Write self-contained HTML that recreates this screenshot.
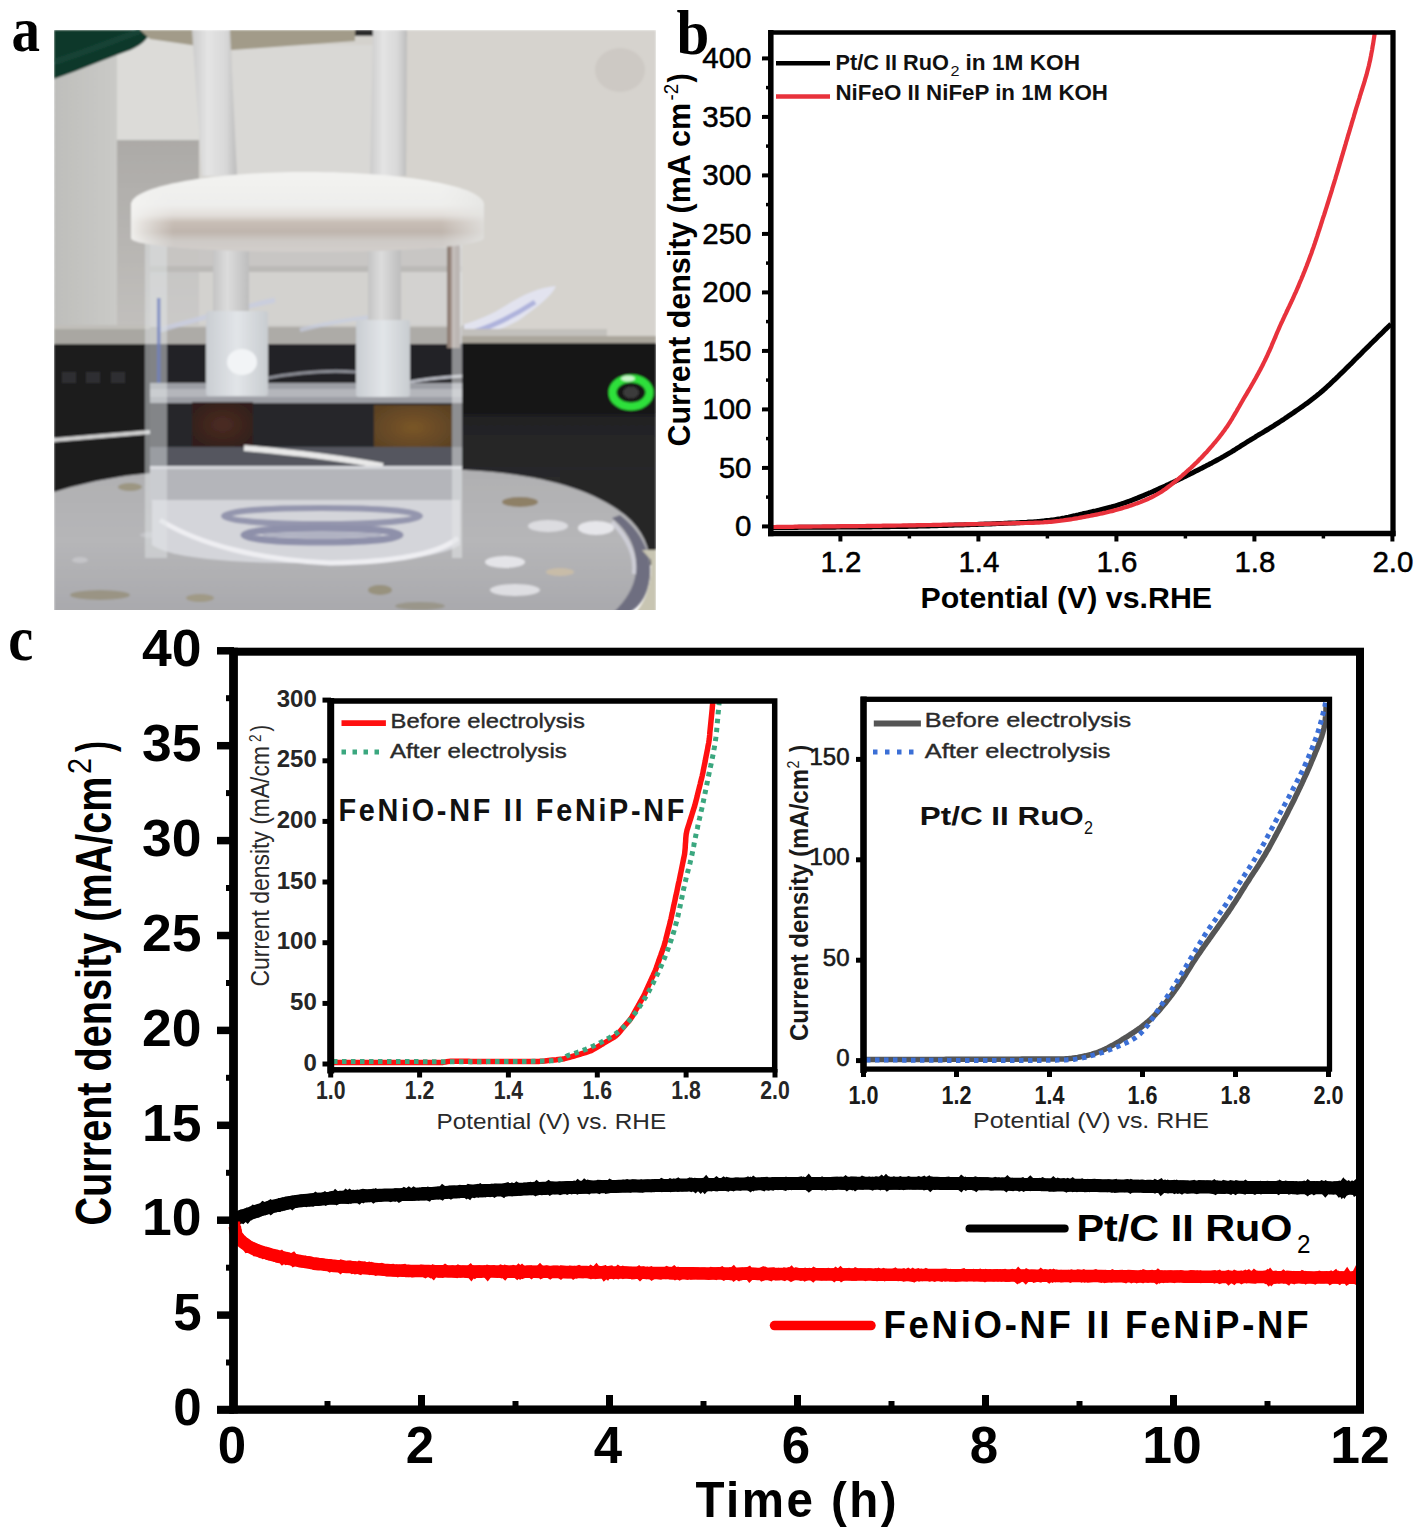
<!DOCTYPE html>
<html><head><meta charset="utf-8"><title>Figure</title>
<style>
html,body{margin:0;padding:0;background:#fff;}
body{width:1425px;height:1534px;overflow:hidden;font-family:"Liberation Sans",sans-serif;}
svg{display:block;}
</style></head><body>
<svg width="1425" height="1534" viewBox="0 0 1425 1534">
<rect x="0" y="0" width="1425" height="1534" fill="#ffffff"/>
<defs>
<clipPath id="pc"><rect x="54" y="30" width="602" height="580"/></clipPath>
<filter id="bl1" x="-5%" y="-5%" width="110%" height="110%"><feGaussianBlur stdDeviation="1.3"/></filter>
<filter id="bl3" x="-20%" y="-20%" width="140%" height="140%"><feGaussianBlur stdDeviation="3"/></filter>
<linearGradient id="gWallL" x1="0" y1="0" x2="1" y2="0">
 <stop offset="0" stop-color="#bebebb"/><stop offset="1" stop-color="#cacac7"/></linearGradient>
<linearGradient id="gShadow" x1="0" y1="0" x2="0" y2="1">
 <stop offset="0" stop-color="#acaaa7"/><stop offset="0.5" stop-color="#b7b5b2"/><stop offset="1" stop-color="#c3c1be"/></linearGradient>
<linearGradient id="gRod" x1="0" y1="0" x2="1" y2="0">
 <stop offset="0" stop-color="#cbcbcb"/><stop offset="0.35" stop-color="#e4e4e4"/><stop offset="0.75" stop-color="#d8d8d8"/><stop offset="1" stop-color="#bcbcbc"/></linearGradient>
<linearGradient id="gRod2" x1="0" y1="0" x2="1" y2="0">
 <stop offset="0" stop-color="#c4c4c4"/><stop offset="0.4" stop-color="#dcdcdc"/><stop offset="1" stop-color="#bdbdbd"/></linearGradient>
<linearGradient id="gLid" x1="0" y1="172" x2="0" y2="252" gradientUnits="userSpaceOnUse">
 <stop offset="0" stop-color="#f3f3f1"/><stop offset="0.41" stop-color="#eeeeec"/><stop offset="0.54" stop-color="#e2deda"/><stop offset="0.63" stop-color="#c8beb6"/><stop offset="0.75" stop-color="#bfb5ad"/><stop offset="0.86" stop-color="#ceCAC6"/><stop offset="1" stop-color="#d2cecb"/></linearGradient>
<linearGradient id="gLidEnd" x1="0" y1="0" x2="1" y2="0">
 <stop offset="0" stop-color="#f4f4f2" stop-opacity="0.9"/><stop offset="0.12" stop-color="#f0f0ee" stop-opacity="0"/><stop offset="0.88" stop-color="#e8e8e6" stop-opacity="0"/><stop offset="1" stop-color="#e4e4e2" stop-opacity="0.8"/></linearGradient>
<linearGradient id="gHolder" x1="0" y1="0" x2="1" y2="0">
 <stop offset="0" stop-color="#c9cdd2"/><stop offset="0.5" stop-color="#e2e5e8"/><stop offset="1" stop-color="#c8ccd0"/></linearGradient>
<linearGradient id="gPlate" x1="0" y1="470" x2="0" y2="612" gradientUnits="userSpaceOnUse">
 <stop offset="0" stop-color="#b0b0b2"/><stop offset="0.5" stop-color="#b6b6b8"/><stop offset="1" stop-color="#a9a9ad"/></linearGradient>
<linearGradient id="gDevR" x1="0" y1="343" x2="0" y2="480" gradientUnits="userSpaceOnUse">
 <stop offset="0" stop-color="#121213"/><stop offset="0.5" stop-color="#151516"/><stop offset="0.55" stop-color="#232324"/><stop offset="1" stop-color="#29292a"/></linearGradient>
<radialGradient id="gBrownR" cx="0.5" cy="0.5" r="0.6">
 <stop offset="0" stop-color="#7a5628"/><stop offset="1" stop-color="#5c4224"/></radialGradient>
<radialGradient id="gBrownL" cx="0.5" cy="0.5" r="0.6">
 <stop offset="0" stop-color="#4c2c22"/><stop offset="1" stop-color="#301e1a"/></radialGradient>
</defs><g clip-path="url(#pc)"><g filter="url(#bl1)"><rect x="54" y="30" width="602" height="320" fill="#d4d2cd"/><rect x="407" y="30" width="249" height="310" fill="#d6d3ce"/><ellipse cx="620" cy="70" rx="25" ry="22" fill="#cdc9c4"/><rect x="54" y="30" width="63" height="320" fill="url(#gWallL)"/><rect x="117" y="38" width="82" height="102" fill="#dcdbd8"/><rect x="117" y="140" width="82" height="200" fill="url(#gShadow)"/><rect x="232" y="45" width="141" height="130" fill="#d9d8d5"/><path d="M54,30 L151,30 C149,38 141,47 125,52 C105,59 85,68 54,79 Z" fill="#0e392c"/><path d="M54,62 C80,54 110,42 140,31" stroke="#1a4a3b" stroke-width="6" fill="none" opacity="0.6"/><path d="M140,30 L355,30 L355,41 L232,50 L198,46 L150,39 Z" fill="#a29b89"/><rect x="355" y="30" width="52" height="6" fill="#2c2c2c"/><polygon points="192,30 230,30 237,176 202,176" fill="url(#gRod)"/><polygon points="373,30 407,30 406,176 370,176" fill="url(#gRod)"/><path d="M415,334 C450,330 480,322 505,306 C522,295 540,287 556,286 C552,296 538,306 522,318 C505,330 480,336 440,338 Z" fill="#e2e3ef"/><path d="M470,333 C495,326 515,315 535,302" stroke="#aeb2dc" stroke-width="5" fill="none"/><rect x="54" y="327" width="410" height="18" fill="#a9a7a2"/><rect x="54" y="325" width="410" height="4" fill="#c0beb9"/><rect x="462" y="329" width="145" height="8" fill="#c2c0bc"/><rect x="462" y="336" width="194" height="9" fill="#aaa69c"/><rect x="54" y="344" width="602" height="150" fill="#1d1d1f"/><rect x="462" y="343" width="194" height="140" fill="url(#gDevR)"/><rect x="560" y="470" width="96" height="95" fill="#262628"/><g opacity="0.55" fill="#3c3c3e"><rect x="62" y="372" width="14" height="11"/><rect x="86" y="372" width="14" height="11"/><rect x="111" y="372" width="14" height="11"/></g><path d="M54,440 L150,432" stroke="#d0d0d0" stroke-width="4" fill="none"/><ellipse cx="631" cy="392.5" rx="18.5" ry="14" fill="none" stroke="#2ee03a" stroke-width="8"/><ellipse cx="631" cy="392.5" rx="8" ry="6" fill="#3a3a3a"/><ellipse cx="628" cy="378.5" rx="7" ry="3" fill="#e8f8e8" opacity="0.85"/><path d="M54,492 C100,478 140,472 200,470 L465,470 C540,474 590,488 625,515 C645,532 652,552 650,575 C648,595 640,605 630,612 L54,612 Z" fill="url(#gPlate)"/><path d="M620,515 C640,530 652,552 650,576 C648,596 640,606 630,612 L614,612 C626,600 634,588 636,572 C638,552 630,532 612,518 Z" fill="#6e6e80"/><path d="M612,522 C628,538 636,556 634,574" stroke="#d4d4de" stroke-width="4" fill="none" opacity="0.8"/><path d="M642,550 L656,550 L656,612 L636,612 C648,598 652,578 651,560 Z" fill="#c8c5b2"/><ellipse cx="130" cy="487" rx="12" ry="4" fill="#9c9682"/><ellipse cx="520" cy="502" rx="18" ry="5" fill="#8e8066"/><ellipse cx="548" cy="526" rx="20" ry="6" fill="#dcdce0"/><ellipse cx="596" cy="528" rx="18" ry="7" fill="#e6e6ea"/><ellipse cx="505" cy="562" rx="20" ry="6" fill="#e4e4e8"/><ellipse cx="560" cy="572" rx="14" ry="4" fill="#c8bca8"/><ellipse cx="515" cy="590" rx="25" ry="6" fill="#dedee2"/><ellipse cx="100" cy="595" rx="30" ry="5" fill="#9a9484"/><ellipse cx="200" cy="598" rx="14" ry="4" fill="#a09a86"/><ellipse cx="380" cy="590" rx="12" ry="5" fill="#98927e"/><ellipse cx="420" cy="606" rx="25" ry="4" fill="#9a968a"/><ellipse cx="150" cy="535" rx="10" ry="3" fill="#c4c4c8"/><ellipse cx="80" cy="560" rx="8" ry="3" fill="#c4c4c8"/><rect x="150" y="240" width="312" height="88" fill="#d2d2d2" opacity="0.55"/><rect x="150" y="248" width="312" height="24" fill="#c6c4c2" opacity="0.9"/><rect x="150" y="266" width="312" height="6" fill="#b8b6b4" opacity="0.8"/><rect x="150" y="344" width="312" height="56" fill="#222226"/><rect x="150" y="327" width="312" height="17" fill="#adaba7"/><path d="M268,378 C300,372 330,370 356,372" stroke="#8a8c94" stroke-width="3" fill="none"/><path d="M410,382 C430,378 450,377 462,376" stroke="#b8bac2" stroke-width="3" fill="none"/><path d="M160,330 C200,318 240,308 275,300" stroke="#c8cde0" stroke-width="5" fill="none" opacity="0.8"/><path d="M300,330 C330,322 360,318 380,316" stroke="#c8cde0" stroke-width="4" fill="none" opacity="0.7"/><rect x="213" y="245" width="36" height="68" fill="url(#gRod2)"/><rect x="368" y="245" width="33" height="77" fill="url(#gRod2)"/><rect x="447" y="238" width="13" height="110" fill="#8d7d73"/><rect x="450" y="238" width="5" height="110" fill="#a09088"/><rect x="150" y="383" width="312" height="20" fill="#9c9ea4"/><rect x="150" y="389" width="312" height="8" fill="#b4b6bb"/><rect x="206" y="311" width="62" height="85" rx="3" fill="url(#gHolder)"/><ellipse cx="242" cy="362" rx="15" ry="13" fill="#f2f4f6"/><rect x="356" y="320" width="54" height="77" rx="3" fill="url(#gHolder)"/><rect x="150" y="403" width="312" height="45" fill="#26262a"/><rect x="192" y="402" width="61" height="45" fill="url(#gBrownL)"/><rect x="374" y="405" width="78" height="45" fill="url(#gBrownR)"/><rect x="150" y="447" width="312" height="22" fill="#55575e"/><path d="M244,448 C290,452 340,458 383,466" stroke="#e8e8e8" stroke-width="6" fill="none"/><rect x="150" y="468" width="312" height="34" fill="#b4b5ba"/><rect x="150" y="466" width="312" height="3" fill="#d6d7dc"/><path d="M152,500 L460,500 L460,545 C440,558 380,563 305,563 C230,563 170,558 152,545 Z" fill="#d4d5da"/><ellipse cx="322" cy="516" rx="98" ry="8" fill="none" stroke="#9496ae" stroke-width="6"/><ellipse cx="322" cy="535" rx="78" ry="7" fill="none" stroke="#8e90aa" stroke-width="7"/><ellipse cx="322" cy="535" rx="60" ry="3" fill="#b0b2c2"/><path d="M160,520 C200,545 260,560 330,563 C400,562 440,553 458,538" stroke="#eeeef2" stroke-width="5" fill="none"/><rect x="145" y="238" width="22" height="320" fill="#e0e3e6" opacity="0.5"/><rect x="452" y="238" width="10" height="320" fill="#e4e6e8" opacity="0.55"/><rect x="157" y="298" width="3.5" height="85" fill="#6f80c0" opacity="0.75"/><path d="M131,205 C131,186 210,172 307,172 C404,172 484,186 484,205 L484,238 C484,246 404,252 307,252 C210,252 131,246 131,238 Z" fill="url(#gLid)"/><path d="M131,205 C131,186 210,172 307,172 C404,172 484,186 484,205 L484,238 C484,246 404,252 307,252 C210,252 131,246 131,238 Z" fill="url(#gLidEnd)"/></g></g><text x="11.5" y="51.4" font-family="Liberation Serif" font-size="64" font-weight="bold" text-anchor="start" fill="#000" textLength="28.5" lengthAdjust="spacingAndGlyphs" >a</text><text x="676.5" y="54.4" font-family="Liberation Serif" font-size="63" font-weight="bold" text-anchor="start" fill="#000" textLength="32.8" lengthAdjust="spacingAndGlyphs" >b</text><text x="8.2" y="660.3" font-family="Liberation Serif" font-size="64" font-weight="bold" text-anchor="start" fill="#000" textLength="25.0" lengthAdjust="spacingAndGlyphs" >c</text><g><path d="M771.0,527.5 L773.0,527.5 L775.0,527.5 L777.0,527.5 L779.0,527.5 L781.0,527.4 L783.0,527.4 L785.0,527.4 L787.0,527.4 L789.0,527.4 L791.0,527.4 L793.0,527.4 L795.0,527.4 L797.0,527.4 L799.0,527.3 L801.0,527.3 L803.0,527.3 L805.0,527.3 L807.0,527.3 L809.0,527.3 L811.0,527.3 L813.0,527.3 L815.0,527.3 L817.0,527.3 L819.0,527.2 L821.0,527.2 L823.0,527.2 L825.0,527.2 L827.0,527.2 L829.0,527.2 L831.0,527.2 L833.0,527.2 L835.0,527.2 L837.0,527.1 L839.0,527.1 L841.0,527.1 L843.0,527.1 L845.0,527.1 L847.0,527.1 L849.0,527.1 L851.0,527.0 L853.0,527.0 L855.0,527.0 L857.0,527.0 L859.0,527.0 L861.0,527.0 L863.0,526.9 L865.0,526.9 L867.0,526.9 L869.0,526.9 L871.0,526.9 L873.0,526.8 L875.0,526.8 L877.0,526.8 L879.0,526.8 L881.0,526.8 L883.0,526.7 L885.0,526.7 L887.0,526.7 L889.0,526.7 L891.0,526.6 L893.0,526.6 L895.0,526.6 L897.0,526.5 L899.0,526.5 L901.0,526.5 L903.0,526.4 L905.0,526.4 L907.0,526.4 L909.0,526.3 L911.0,526.3 L913.0,526.2 L915.0,526.2 L917.0,526.2 L919.0,526.1 L921.0,526.1 L923.0,526.0 L925.0,526.0 L927.0,525.9 L929.0,525.9 L931.0,525.8 L933.0,525.8 L935.0,525.7 L937.0,525.7 L939.0,525.6 L941.0,525.5 L943.0,525.5 L945.0,525.4 L947.0,525.4 L949.0,525.3 L951.0,525.2 L953.0,525.2 L955.0,525.1 L957.0,525.1 L959.0,525.0 L961.0,524.9 L963.0,524.9 L965.0,524.8 L967.0,524.7 L969.0,524.7 L971.0,524.6 L973.0,524.5 L975.0,524.4 L977.0,524.4 L979.0,524.3 L981.0,524.2 L983.0,524.2 L985.0,524.1 L987.0,524.0 L989.0,523.9 L991.0,523.9 L993.0,523.8 L995.0,523.7 L997.0,523.6 L998.9,523.5 L1000.9,523.5 L1002.9,523.4 L1004.9,523.3 L1006.9,523.2 L1008.9,523.1 L1010.9,523.0 L1012.9,523.0 L1014.9,522.9 L1016.9,522.8 L1018.9,522.7 L1020.9,522.6 L1022.9,522.5 L1024.9,522.4 L1026.9,522.3 L1028.9,522.1 L1030.9,522.0 L1032.9,521.9 L1034.9,521.7 L1036.9,521.6 L1038.9,521.4 L1040.9,521.2 L1042.9,521.1 L1044.9,520.8 L1046.8,520.6 L1048.8,520.4 L1050.8,520.1 L1052.8,519.9 L1054.8,519.6 L1056.7,519.3 L1058.7,518.9 L1060.7,518.6 L1062.6,518.2 L1064.6,517.9 L1066.6,517.5 L1068.5,517.1 L1070.5,516.6 L1072.4,516.2 L1074.4,515.8 L1076.3,515.3 L1078.3,514.9 L1080.2,514.4 L1082.2,514.0 L1084.1,513.5 L1086.1,513.1 L1088.0,512.7 L1090.0,512.2 L1091.9,511.8 L1093.9,511.3 L1095.8,510.9 L1097.8,510.4 L1099.7,510.0 L1101.7,509.5 L1103.6,509.0 L1105.6,508.5 L1107.5,508.0 L1109.4,507.5 L1111.3,507.0 L1113.3,506.4 L1115.2,505.9 L1117.1,505.3 L1119.0,504.7 L1120.9,504.1 L1122.8,503.5 L1124.7,502.8 L1126.6,502.1 L1128.5,501.5 L1130.3,500.8 L1132.2,500.1 L1134.1,499.3 L1135.9,498.6 L1137.8,497.9 L1139.6,497.1 L1141.5,496.3 L1143.3,495.6 L1145.2,494.8 L1147.0,494.0 L1148.9,493.2 L1150.7,492.5 L1152.5,491.7 L1154.4,490.9 L1156.2,490.1 L1158.0,489.2 L1159.8,488.4 L1161.7,487.6 L1163.5,486.8 L1165.3,486.0 L1167.1,485.1 L1168.9,484.3 L1170.7,483.4 L1172.6,482.6 L1174.4,481.7 L1176.2,480.8 L1178.0,480.0 L1179.8,479.1 L1181.6,478.2 L1183.4,477.3 L1185.2,476.5 L1186.9,475.6 L1188.7,474.7 L1190.5,473.8 L1192.3,472.9 L1194.1,472.0 L1195.9,471.1 L1197.7,470.2 L1199.5,469.3 L1201.2,468.4 L1203.0,467.5 L1204.8,466.6 L1206.6,465.6 L1208.4,464.7 L1210.1,463.8 L1211.9,462.9 L1213.7,461.9 L1215.4,461.0 L1217.2,460.0 L1218.9,459.1 L1220.7,458.1 L1222.4,457.1 L1224.2,456.1 L1225.9,455.1 L1227.6,454.1 L1229.3,453.1 L1231.1,452.1 L1232.8,451.0 L1234.5,450.0 L1236.2,448.9 L1237.8,447.8 L1239.5,446.8 L1241.2,445.7 L1242.9,444.6 L1244.6,443.6 L1246.3,442.5 L1248.0,441.4 L1249.7,440.4 L1251.4,439.3 L1253.1,438.3 L1254.8,437.3 L1256.5,436.2 L1258.2,435.2 L1259.9,434.1 L1261.7,433.1 L1263.4,432.1 L1265.1,431.0 L1266.8,430.0 L1268.5,429.0 L1270.2,427.9 L1271.9,426.8 L1273.6,425.8 L1275.3,424.7 L1277.0,423.6 L1278.6,422.6 L1280.3,421.5 L1282.0,420.4 L1283.7,419.3 L1285.3,418.2 L1287.0,417.1 L1288.6,415.9 L1290.3,414.8 L1292.0,413.7 L1293.6,412.6 L1295.3,411.4 L1296.9,410.3 L1298.5,409.2 L1300.2,408.0 L1301.8,406.9 L1303.4,405.7 L1305.1,404.5 L1306.7,403.4 L1308.3,402.2 L1309.9,401.0 L1311.5,399.8 L1313.1,398.6 L1314.7,397.3 L1316.2,396.1 L1317.8,394.8 L1319.3,393.6 L1320.8,392.3 L1322.4,391.0 L1323.9,389.7 L1325.4,388.3 L1326.8,387.0 L1328.3,385.6 L1329.8,384.3 L1331.2,382.9 L1332.7,381.5 L1334.1,380.2 L1335.6,378.8 L1337.0,377.4 L1338.5,376.0 L1339.9,374.6 L1341.3,373.2 L1342.8,371.8 L1344.2,370.4 L1345.6,369.0 L1347.0,367.6 L1348.5,366.2 L1349.9,364.8 L1351.3,363.4 L1352.7,362.0 L1354.1,360.5 L1355.5,359.1 L1356.9,357.7 L1358.3,356.3 L1359.8,354.9 L1361.2,353.5 L1362.6,352.0 L1364.0,350.6 L1365.4,349.2 L1366.8,347.8 L1368.3,346.4 L1369.7,345.0 L1371.1,343.6 L1372.5,342.2 L1373.9,340.8 L1375.4,339.4 L1376.8,338.0 L1378.2,336.6 L1379.6,335.2 L1381.1,333.8 L1382.5,332.4 L1383.9,331.0 L1385.3,329.6 L1386.8,328.2 L1388.2,326.8 L1389.6,325.4 L1391.0,324.0 L1391.0,324.0" stroke="#000" stroke-width="5" fill="none" stroke-linejoin="round"/><path d="M771.0,527.0 L773.0,527.0 L775.0,527.0 L777.0,526.9 L779.0,526.9 L781.0,526.9 L783.0,526.9 L785.0,526.8 L787.0,526.8 L789.0,526.8 L791.0,526.8 L793.0,526.8 L795.0,526.7 L797.0,526.7 L799.0,526.7 L801.0,526.7 L803.0,526.7 L805.0,526.6 L807.0,526.6 L809.0,526.6 L811.0,526.6 L813.0,526.5 L815.0,526.5 L817.0,526.5 L819.0,526.5 L821.0,526.5 L823.0,526.4 L825.0,526.4 L827.0,526.4 L829.0,526.4 L831.0,526.4 L833.0,526.3 L835.0,526.3 L837.0,526.3 L839.0,526.3 L841.0,526.2 L843.0,526.2 L845.0,526.2 L847.0,526.2 L849.0,526.2 L851.0,526.1 L853.0,526.1 L855.0,526.1 L857.0,526.1 L859.0,526.0 L861.0,526.0 L863.0,526.0 L865.0,526.0 L867.0,525.9 L869.0,525.9 L871.0,525.9 L873.0,525.9 L875.0,525.8 L877.0,525.8 L879.0,525.8 L881.0,525.8 L883.0,525.7 L885.0,525.7 L887.0,525.7 L889.0,525.7 L891.0,525.6 L893.0,525.6 L895.0,525.6 L897.0,525.5 L899.0,525.5 L901.0,525.5 L903.0,525.4 L905.0,525.4 L907.0,525.4 L909.0,525.4 L911.0,525.3 L913.0,525.3 L915.0,525.3 L917.0,525.2 L919.0,525.2 L921.0,525.1 L923.0,525.1 L925.0,525.1 L927.0,525.0 L929.0,525.0 L931.0,525.0 L933.0,524.9 L935.0,524.9 L937.0,524.9 L939.0,524.8 L941.0,524.8 L943.0,524.7 L945.0,524.7 L947.0,524.7 L949.0,524.6 L951.0,524.6 L953.0,524.5 L955.0,524.5 L957.0,524.5 L959.0,524.4 L961.0,524.4 L963.0,524.3 L965.0,524.3 L967.0,524.2 L969.0,524.2 L971.0,524.2 L973.0,524.1 L975.0,524.1 L977.0,524.0 L979.0,524.0 L981.0,523.9 L983.0,523.9 L985.0,523.8 L987.0,523.8 L989.0,523.8 L991.0,523.7 L993.0,523.7 L995.0,523.6 L997.0,523.6 L999.0,523.5 L1001.0,523.5 L1003.0,523.4 L1005.0,523.4 L1007.0,523.4 L1009.0,523.3 L1011.0,523.3 L1013.0,523.2 L1015.0,523.2 L1017.0,523.2 L1019.0,523.1 L1021.0,523.1 L1023.0,523.1 L1025.0,523.0 L1027.0,523.0 L1029.0,522.9 L1031.0,522.9 L1033.0,522.8 L1035.0,522.7 L1037.0,522.6 L1039.0,522.6 L1041.0,522.5 L1043.0,522.4 L1044.9,522.2 L1046.9,522.1 L1048.9,521.9 L1050.9,521.8 L1052.9,521.6 L1054.9,521.4 L1056.9,521.2 L1058.9,521.0 L1060.9,520.7 L1062.8,520.5 L1064.8,520.2 L1066.8,519.9 L1068.8,519.6 L1070.8,519.3 L1072.7,519.0 L1074.7,518.6 L1076.7,518.3 L1078.6,518.0 L1080.6,517.6 L1082.6,517.2 L1084.5,516.9 L1086.5,516.5 L1088.5,516.1 L1090.4,515.8 L1092.4,515.4 L1094.4,515.0 L1096.3,514.6 L1098.3,514.2 L1100.2,513.8 L1102.2,513.4 L1104.1,512.9 L1106.1,512.5 L1108.0,512.0 L1110.0,511.5 L1111.9,511.1 L1113.9,510.6 L1115.8,510.0 L1117.7,509.5 L1119.6,509.0 L1121.6,508.4 L1123.5,507.8 L1125.4,507.3 L1127.3,506.7 L1129.2,506.0 L1131.1,505.4 L1133.0,504.8 L1134.9,504.1 L1136.8,503.4 L1138.6,502.8 L1140.5,502.1 L1142.4,501.3 L1144.2,500.6 L1146.1,499.8 L1147.9,499.0 L1149.7,498.2 L1151.5,497.3 L1153.3,496.4 L1155.0,495.5 L1156.8,494.5 L1158.5,493.5 L1160.2,492.5 L1161.9,491.4 L1163.5,490.3 L1165.2,489.2 L1166.8,488.0 L1168.4,486.8 L1170.0,485.6 L1171.6,484.4 L1173.1,483.2 L1174.7,481.9 L1176.2,480.6 L1177.8,479.3 L1179.3,478.1 L1180.8,476.8 L1182.3,475.5 L1183.8,474.1 L1185.4,472.8 L1186.8,471.5 L1188.3,470.2 L1189.8,468.8 L1191.3,467.5 L1192.8,466.1 L1194.2,464.7 L1195.6,463.3 L1197.1,462.0 L1198.5,460.5 L1199.9,459.1 L1201.3,457.7 L1202.7,456.2 L1204.0,454.8 L1205.4,453.3 L1206.8,451.9 L1208.1,450.4 L1209.4,448.9 L1210.7,447.4 L1212.1,445.9 L1213.4,444.3 L1214.6,442.8 L1215.9,441.3 L1217.2,439.7 L1218.4,438.2 L1219.7,436.6 L1220.9,435.0 L1222.1,433.4 L1223.3,431.8 L1224.5,430.2 L1225.6,428.6 L1226.8,427.0 L1227.9,425.3 L1229.0,423.6 L1230.1,422.0 L1231.1,420.3 L1232.2,418.6 L1233.2,416.8 L1234.2,415.1 L1235.2,413.4 L1236.2,411.7 L1237.2,409.9 L1238.2,408.2 L1239.2,406.5 L1240.2,404.7 L1241.2,403.0 L1242.2,401.3 L1243.2,399.5 L1244.2,397.8 L1245.2,396.1 L1246.3,394.4 L1247.3,392.6 L1248.3,390.9 L1249.3,389.2 L1250.3,387.5 L1251.3,385.7 L1252.3,384.0 L1253.3,382.3 L1254.3,380.5 L1255.3,378.8 L1256.3,377.0 L1257.2,375.3 L1258.2,373.5 L1259.1,371.8 L1260.1,370.0 L1261.0,368.2 L1261.9,366.5 L1262.8,364.7 L1263.7,362.9 L1264.6,361.1 L1265.5,359.3 L1266.3,357.5 L1267.2,355.7 L1268.0,353.9 L1268.8,352.0 L1269.7,350.2 L1270.5,348.4 L1271.3,346.6 L1272.0,344.7 L1272.8,342.9 L1273.6,341.0 L1274.4,339.2 L1275.2,337.4 L1275.9,335.5 L1276.7,333.7 L1277.5,331.8 L1278.3,330.0 L1279.1,328.2 L1279.9,326.3 L1280.7,324.5 L1281.5,322.7 L1282.4,320.9 L1283.2,319.1 L1284.1,317.2 L1284.9,315.4 L1285.8,313.6 L1286.6,311.8 L1287.5,310.0 L1288.3,308.2 L1289.2,306.4 L1290.0,304.6 L1290.9,302.8 L1291.7,301.0 L1292.6,299.1 L1293.4,297.3 L1294.2,295.5 L1295.0,293.7 L1295.9,291.9 L1296.7,290.0 L1297.5,288.2 L1298.3,286.4 L1299.0,284.5 L1299.8,282.7 L1300.6,280.8 L1301.4,279.0 L1302.1,277.1 L1302.9,275.3 L1303.6,273.4 L1304.4,271.6 L1305.1,269.7 L1305.8,267.9 L1306.6,266.0 L1307.3,264.1 L1308.0,262.3 L1308.7,260.4 L1309.4,258.5 L1310.1,256.6 L1310.8,254.8 L1311.5,252.9 L1312.1,251.0 L1312.8,249.1 L1313.5,247.2 L1314.1,245.3 L1314.8,243.4 L1315.4,241.5 L1316.1,239.6 L1316.7,237.7 L1317.3,235.9 L1317.9,233.9 L1318.5,232.0 L1319.2,230.1 L1319.8,228.2 L1320.4,226.3 L1321.0,224.4 L1321.6,222.5 L1322.2,220.6 L1322.8,218.7 L1323.4,216.8 L1324.1,214.9 L1324.7,213.0 L1325.3,211.1 L1325.9,209.2 L1326.5,207.3 L1327.1,205.4 L1327.7,203.5 L1328.3,201.6 L1328.9,199.7 L1329.5,197.7 L1330.1,195.8 L1330.7,193.9 L1331.3,192.0 L1331.9,190.1 L1332.4,188.2 L1333.0,186.3 L1333.6,184.4 L1334.2,182.5 L1334.8,180.5 L1335.4,178.6 L1335.9,176.7 L1336.5,174.8 L1337.1,172.9 L1337.7,171.0 L1338.2,169.1 L1338.8,167.1 L1339.4,165.2 L1339.9,163.3 L1340.5,161.4 L1341.1,159.5 L1341.6,157.5 L1342.2,155.6 L1342.8,153.7 L1343.3,151.8 L1343.9,149.9 L1344.5,148.0 L1345.0,146.0 L1345.6,144.1 L1346.1,142.2 L1346.7,140.3 L1347.3,138.4 L1347.8,136.4 L1348.4,134.5 L1349.0,132.6 L1349.6,130.7 L1350.1,128.8 L1350.7,126.9 L1351.3,124.9 L1351.8,123.0 L1352.4,121.1 L1353.0,119.2 L1353.6,117.3 L1354.1,115.4 L1354.7,113.4 L1355.3,111.5 L1355.8,109.6 L1356.4,107.7 L1357.0,105.8 L1357.6,103.9 L1358.2,102.0 L1358.8,100.0 L1359.4,98.1 L1359.9,96.2 L1360.5,94.3 L1361.1,92.4 L1361.7,90.5 L1362.3,88.6 L1362.9,86.7 L1363.5,84.8 L1364.1,82.9 L1364.7,80.9 L1365.2,79.0 L1365.8,77.1 L1366.4,75.2 L1366.9,73.3 L1367.4,71.3 L1367.9,69.4 L1368.4,67.5 L1368.9,65.5 L1369.3,63.6 L1369.8,61.6 L1370.2,59.7 L1370.6,57.7 L1371.0,55.7 L1371.3,53.8 L1371.7,51.8 L1372.1,49.8 L1372.4,47.9 L1372.7,45.9 L1373.1,44.0 L1373.4,42.0 L1373.7,40.0 L1374.0,38.1 L1374.3,36.1 L1374.6,34.2 L1374.9,32.4 L1375.0,32.0" stroke="#e8323c" stroke-width="4.2" fill="none" stroke-linejoin="round"/><path d="M770.8,32.5 L1393,32.5 L1393,533.5 L770.8,533.5 Z" stroke="#000" stroke-width="4.5" fill="none"/><line x1="770.8" y1="30" x2="770.8" y2="536.3" stroke="#000" stroke-width="5.5"/><line x1="768" y1="533.6" x2="1395.5" y2="533.6" stroke="#000" stroke-width="5.5"/><line x1="1393" y1="30.3" x2="1393" y2="536.3" stroke="#000" stroke-width="5"/><line x1="762" y1="526.4" x2="771" y2="526.4" stroke="#000" stroke-width="4"/><text x="751.5" y="536.0" font-family="Liberation Sans" font-size="29.5" font-weight="normal" text-anchor="end" fill="#000" stroke="#000" stroke-width="0.5">0</text><line x1="762" y1="467.9" x2="771" y2="467.9" stroke="#000" stroke-width="4"/><text x="751.5" y="477.5" font-family="Liberation Sans" font-size="29.5" font-weight="normal" text-anchor="end" fill="#000" stroke="#000" stroke-width="0.5">50</text><line x1="762" y1="409.4" x2="771" y2="409.4" stroke="#000" stroke-width="4"/><text x="751.5" y="419.0" font-family="Liberation Sans" font-size="29.5" font-weight="normal" text-anchor="end" fill="#000" stroke="#000" stroke-width="0.5">100</text><line x1="762" y1="350.9" x2="771" y2="350.9" stroke="#000" stroke-width="4"/><text x="751.5" y="360.5" font-family="Liberation Sans" font-size="29.5" font-weight="normal" text-anchor="end" fill="#000" stroke="#000" stroke-width="0.5">150</text><line x1="762" y1="292.4" x2="771" y2="292.4" stroke="#000" stroke-width="4"/><text x="751.5" y="302.0" font-family="Liberation Sans" font-size="29.5" font-weight="normal" text-anchor="end" fill="#000" stroke="#000" stroke-width="0.5">200</text><line x1="762" y1="233.9" x2="771" y2="233.9" stroke="#000" stroke-width="4"/><text x="751.5" y="243.5" font-family="Liberation Sans" font-size="29.5" font-weight="normal" text-anchor="end" fill="#000" stroke="#000" stroke-width="0.5">250</text><line x1="762" y1="175.4" x2="771" y2="175.4" stroke="#000" stroke-width="4"/><text x="751.5" y="185.0" font-family="Liberation Sans" font-size="29.5" font-weight="normal" text-anchor="end" fill="#000" stroke="#000" stroke-width="0.5">300</text><line x1="762" y1="116.9" x2="771" y2="116.9" stroke="#000" stroke-width="4"/><text x="751.5" y="126.5" font-family="Liberation Sans" font-size="29.5" font-weight="normal" text-anchor="end" fill="#000" stroke="#000" stroke-width="0.5">350</text><line x1="762" y1="58.4" x2="771" y2="58.4" stroke="#000" stroke-width="4"/><text x="751.5" y="68.0" font-family="Liberation Sans" font-size="29.5" font-weight="normal" text-anchor="end" fill="#000" stroke="#000" stroke-width="0.5">400</text><line x1="766" y1="497.1" x2="771" y2="497.1" stroke="#000" stroke-width="3.5"/><line x1="766" y1="438.6" x2="771" y2="438.6" stroke="#000" stroke-width="3.5"/><line x1="766" y1="380.1" x2="771" y2="380.1" stroke="#000" stroke-width="3.5"/><line x1="766" y1="321.6" x2="771" y2="321.6" stroke="#000" stroke-width="3.5"/><line x1="766" y1="263.1" x2="771" y2="263.1" stroke="#000" stroke-width="3.5"/><line x1="766" y1="204.6" x2="771" y2="204.6" stroke="#000" stroke-width="3.5"/><line x1="766" y1="146.1" x2="771" y2="146.1" stroke="#000" stroke-width="3.5"/><line x1="766" y1="87.6" x2="771" y2="87.6" stroke="#000" stroke-width="3.5"/><line x1="840.4" y1="533" x2="840.4" y2="541.5" stroke="#000" stroke-width="4"/><text x="840.9" y="571.7" font-family="Liberation Sans" font-size="29.5" font-weight="normal" text-anchor="middle" fill="#000" stroke="#000" stroke-width="0.5">1.2</text><line x1="978.4" y1="533" x2="978.4" y2="541.5" stroke="#000" stroke-width="4"/><text x="978.9" y="571.7" font-family="Liberation Sans" font-size="29.5" font-weight="normal" text-anchor="middle" fill="#000" stroke="#000" stroke-width="0.5">1.4</text><line x1="1116.4" y1="533" x2="1116.4" y2="541.5" stroke="#000" stroke-width="4"/><text x="1116.9" y="571.7" font-family="Liberation Sans" font-size="29.5" font-weight="normal" text-anchor="middle" fill="#000" stroke="#000" stroke-width="0.5">1.6</text><line x1="1254.4" y1="533" x2="1254.4" y2="541.5" stroke="#000" stroke-width="4"/><text x="1254.9" y="571.7" font-family="Liberation Sans" font-size="29.5" font-weight="normal" text-anchor="middle" fill="#000" stroke="#000" stroke-width="0.5">1.8</text><line x1="1392.4" y1="533" x2="1392.4" y2="541.5" stroke="#000" stroke-width="4"/><text x="1392.9" y="571.7" font-family="Liberation Sans" font-size="29.5" font-weight="normal" text-anchor="middle" fill="#000" stroke="#000" stroke-width="0.5">2.0</text><line x1="909.4" y1="533" x2="909.4" y2="538.5" stroke="#000" stroke-width="3.5"/><line x1="1047.4" y1="533" x2="1047.4" y2="538.5" stroke="#000" stroke-width="3.5"/><line x1="1185.4" y1="533" x2="1185.4" y2="538.5" stroke="#000" stroke-width="3.5"/><line x1="1323.4" y1="533" x2="1323.4" y2="538.5" stroke="#000" stroke-width="3.5"/><text x="920.6" y="608.0" font-family="Liberation Sans" font-size="29.5" font-weight="bold" text-anchor="start" fill="#000" textLength="291.4" lengthAdjust="spacingAndGlyphs" >Potential (V) vs.RHE</text><text transform="translate(690.1,446.5) rotate(-90)" x="0" y="0" font-family="Liberation Sans" font-size="31.5" font-weight="bold" fill="#000" textLength="343.5" lengthAdjust="spacingAndGlyphs">Current density (mA cm</text><text transform="translate(678.2,100.5) rotate(-90)" x="0" y="0" font-family="Liberation Sans" font-size="21" font-weight="normal" fill="#000" textLength="16.5" lengthAdjust="spacingAndGlyphs">-2</text><text transform="translate(690.1,82.5) rotate(-90)" x="0" y="0" font-family="Liberation Sans" font-size="31.5" font-weight="bold" fill="#000" textLength="9.0" lengthAdjust="spacingAndGlyphs">)</text><line x1="776" y1="63.3" x2="830" y2="63.3" stroke="#000" stroke-width="4.5"/><line x1="776" y1="96.5" x2="830" y2="96.5" stroke="#e8323c" stroke-width="4.5"/><text x="835.5" y="69.8" font-family="Liberation Sans" font-size="21.5" font-weight="bold" text-anchor="start" fill="#111" textLength="113.5" lengthAdjust="spacingAndGlyphs" >Pt/C II RuO</text><text x="950.5" y="75.5" font-family="Liberation Sans" font-size="15" font-weight="normal" text-anchor="start" fill="#111" textLength="9.0" lengthAdjust="spacingAndGlyphs" >2</text><text x="965.5" y="69.8" font-family="Liberation Sans" font-size="21.5" font-weight="bold" text-anchor="start" fill="#111" textLength="114.5" lengthAdjust="spacingAndGlyphs" >in 1M KOH</text><text x="835.5" y="100.2" font-family="Liberation Sans" font-size="21.5" font-weight="bold" text-anchor="start" fill="#111" textLength="272.5" lengthAdjust="spacingAndGlyphs" >NiFeO II NiFeP in 1M KOH</text></g><g><path d="M233.4,1219.8 L235.5,1219.0 L238.4,1217.8 L242.0,1216.4 L246.0,1214.9 L248.5,1214.0 L251.2,1213.0 L254.1,1212.0 L257.1,1211.0 L260.3,1209.9 L263.6,1208.9 L267.1,1207.9 L269.9,1207.2 L272.9,1206.4 L276.0,1205.6 L279.1,1204.9 L282.3,1204.1 L285.6,1203.4 L288.8,1202.8 L292.0,1202.1 L295.2,1201.6 L298.3,1201.1 L301.4,1200.7 L304.5,1200.4 L307.6,1200.1 L310.8,1199.8 L313.9,1199.6 L317.0,1199.3 L320.1,1199.1 L323.2,1198.8 L326.3,1198.5 L329.4,1198.3 L332.6,1198.0 L335.7,1197.8 L338.8,1197.5 L341.9,1197.3 L345.1,1197.1 L348.2,1196.9 L351.3,1196.7 L354.3,1196.5 L357.3,1196.3 L360.1,1196.2 L363.0,1196.0 L366.0,1195.9 L369.0,1195.7 L372.2,1195.6 L375.7,1195.4 L379.4,1195.3 L382.0,1195.2 L384.7,1195.1 L387.5,1195.0 L390.3,1195.0 L393.3,1194.9 L396.4,1194.8 L399.4,1194.7 L402.6,1194.6 L405.7,1194.6 L408.9,1194.5 L412.1,1194.4 L415.3,1194.3 L418.4,1194.1 L421.5,1194.0 L424.4,1193.9 L427.2,1193.7 L429.7,1193.6 L432.2,1193.4 L434.6,1193.2 L437.0,1193.0 L439.6,1192.9 L442.3,1192.7 L445.2,1192.5 L448.5,1192.3 L452.1,1192.1 L456.1,1191.9 L460.6,1191.6 L465.6,1191.4 L467.8,1191.3 L470.0,1191.2 L472.3,1191.1 L474.7,1191.0 L477.1,1190.9 L479.6,1190.8 L482.2,1190.7 L484.8,1190.6 L487.5,1190.5 L490.2,1190.4 L493.0,1190.2 L495.9,1190.1 L498.8,1190.0 L501.7,1189.9 L504.7,1189.8 L507.7,1189.6 L510.8,1189.5 L513.9,1189.4 L517.0,1189.3 L520.2,1189.2 L523.4,1189.1 L526.7,1188.9 L529.9,1188.8 L533.2,1188.7 L536.6,1188.6 L539.9,1188.5 L543.3,1188.3 L546.7,1188.2 L550.1,1188.1 L553.6,1188.0 L557.0,1187.9 L560.5,1187.8 L564.0,1187.7 L567.5,1187.6 L571.0,1187.5 L573.7,1187.4 L576.4,1187.4 L579.2,1187.3 L582.1,1187.2 L585.0,1187.1 L587.9,1187.1 L590.9,1187.0 L593.9,1186.9 L597.0,1186.8 L600.1,1186.8 L603.2,1186.7 L606.3,1186.6 L609.5,1186.6 L612.7,1186.5 L615.9,1186.4 L619.1,1186.3 L622.4,1186.3 L625.7,1186.2 L628.9,1186.1 L632.2,1186.1 L635.5,1186.0 L638.7,1185.9 L642.0,1185.9 L645.3,1185.8 L648.6,1185.7 L651.8,1185.7 L655.1,1185.6 L658.3,1185.6 L661.5,1185.5 L664.7,1185.4 L667.9,1185.4 L671.0,1185.3 L674.2,1185.3 L677.2,1185.2 L680.3,1185.1 L683.3,1185.1 L686.3,1185.0 L689.2,1185.0 L692.1,1184.9 L695.0,1184.9 L697.8,1184.8 L700.6,1184.8 L703.3,1184.7 L705.9,1184.7 L708.5,1184.6 L711.0,1184.6 L714.8,1184.5 L718.5,1184.5 L722.0,1184.4 L725.3,1184.3 L728.5,1184.3 L731.6,1184.2 L734.5,1184.2 L737.3,1184.1 L740.1,1184.1 L742.8,1184.0 L745.4,1184.0 L748.0,1184.0 L750.6,1183.9 L753.1,1183.9 L755.7,1183.9 L758.2,1183.8 L760.8,1183.8 L763.5,1183.8 L766.2,1183.7 L769.0,1183.7 L771.9,1183.7 L774.9,1183.6 L778.0,1183.6 L781.2,1183.6 L784.6,1183.6 L788.2,1183.6 L791.9,1183.5 L795.9,1183.5 L800.0,1183.5 L802.4,1183.5 L804.8,1183.5 L807.3,1183.5 L809.7,1183.5 L812.3,1183.4 L814.8,1183.4 L817.4,1183.4 L820.0,1183.4 L822.6,1183.4 L825.2,1183.4 L827.9,1183.4 L830.6,1183.4 L833.4,1183.3 L836.1,1183.3 L838.9,1183.3 L841.8,1183.3 L844.6,1183.3 L847.5,1183.3 L850.4,1183.3 L853.3,1183.3 L856.2,1183.3 L859.2,1183.3 L862.2,1183.2 L865.2,1183.2 L868.2,1183.2 L871.3,1183.2 L874.4,1183.2 L877.5,1183.2 L880.6,1183.2 L883.8,1183.2 L887.0,1183.2 L890.2,1183.2 L893.4,1183.2 L896.6,1183.2 L899.9,1183.2 L903.1,1183.2 L906.4,1183.2 L909.8,1183.2 L913.1,1183.2 L916.4,1183.3 L919.8,1183.3 L923.2,1183.3 L926.6,1183.3 L930.0,1183.3 L933.5,1183.3 L936.9,1183.3 L940.4,1183.4 L943.9,1183.4 L947.4,1183.4 L950.9,1183.4 L954.4,1183.5 L958.0,1183.5 L960.7,1183.5 L963.3,1183.5 L966.0,1183.6 L968.8,1183.6 L971.5,1183.6 L974.3,1183.7 L977.1,1183.7 L980.0,1183.7 L982.8,1183.8 L985.7,1183.8 L988.6,1183.8 L991.5,1183.9 L994.4,1183.9 L997.3,1184.0 L1000.3,1184.0 L1003.3,1184.1 L1006.3,1184.1 L1009.3,1184.1 L1012.3,1184.2 L1015.4,1184.2 L1018.4,1184.3 L1021.5,1184.3 L1024.6,1184.4 L1027.7,1184.4 L1030.8,1184.5 L1033.9,1184.5 L1037.0,1184.6 L1040.1,1184.6 L1043.2,1184.7 L1046.4,1184.7 L1049.5,1184.8 L1052.7,1184.9 L1055.9,1184.9 L1059.0,1185.0 L1062.2,1185.0 L1065.4,1185.1 L1068.5,1185.1 L1071.7,1185.2 L1074.9,1185.2 L1078.1,1185.3 L1081.2,1185.3 L1084.4,1185.4 L1087.6,1185.5 L1090.8,1185.5 L1093.9,1185.6 L1097.1,1185.6 L1100.2,1185.7 L1103.4,1185.7 L1106.5,1185.8 L1109.7,1185.8 L1112.8,1185.9 L1115.9,1185.9 L1119.0,1186.0 L1122.2,1186.0 L1125.3,1186.1 L1128.3,1186.1 L1131.4,1186.2 L1134.5,1186.2 L1137.5,1186.3 L1140.6,1186.3 L1143.6,1186.4 L1146.6,1186.4 L1149.6,1186.4 L1152.5,1186.5 L1155.5,1186.5 L1158.4,1186.6 L1161.4,1186.6 L1164.3,1186.6 L1167.1,1186.7 L1170.0,1186.7 L1173.2,1186.7 L1176.5,1186.8 L1179.8,1186.8 L1183.1,1186.8 L1186.5,1186.9 L1189.9,1186.9 L1193.3,1186.9 L1196.7,1187.0 L1200.2,1187.0 L1203.6,1187.0 L1207.1,1187.1 L1210.6,1187.1 L1214.1,1187.1 L1217.6,1187.1 L1221.1,1187.2 L1224.7,1187.2 L1228.2,1187.2 L1231.7,1187.3 L1235.2,1187.3 L1238.8,1187.3 L1242.3,1187.3 L1245.8,1187.4 L1249.3,1187.4 L1252.8,1187.4 L1256.3,1187.4 L1259.7,1187.4 L1263.2,1187.5 L1266.6,1187.5 L1270.0,1187.5 L1273.4,1187.5 L1276.8,1187.6 L1280.1,1187.6 L1283.4,1187.6 L1286.6,1187.6 L1289.9,1187.6 L1293.1,1187.6 L1296.2,1187.7 L1299.4,1187.7 L1302.4,1187.7 L1305.5,1187.7 L1308.5,1187.7 L1311.4,1187.7 L1314.3,1187.8 L1317.1,1187.8 L1319.9,1187.8 L1322.6,1187.8 L1325.3,1187.8 L1327.9,1187.8 L1330.5,1187.8 L1333.0,1187.9 L1335.4,1187.9 L1337.7,1187.9 L1340.0,1187.9 L1342.2,1187.9 L1344.3,1187.9 L1346.4,1187.9 L1348.4,1187.9 L1350.3,1188.0 L1352.1,1188.0 L1353.8,1188.0 L1355.4,1188.0 L1357.0,1188.0" stroke="#000" stroke-width="13" fill="none" stroke-linejoin="round" stroke-linecap="butt"/><path d="M233.4,1219.3 L234.2,1219.6 L235.2,1218.8 L236.4,1218.8 L237.7,1218.3 L239.1,1216.6 L240.7,1215.9 L242.4,1216.9 L244.2,1215.1 L246.0,1214.4 L247.2,1215.5 L248.5,1213.9 L249.8,1214.2 L251.2,1213.0 L252.6,1212.8 L254.1,1211.3 L255.6,1211.8 L257.1,1211.7 L258.7,1210.5 L260.3,1210.4 L262.0,1209.7 L263.6,1208.0 L265.4,1208.9 L267.1,1208.1 L268.4,1207.1 L269.8,1206.3 L271.1,1207.6 L272.6,1206.4 L274.0,1206.5 L275.5,1206.5 L276.9,1205.8 L278.4,1205.9 L280.0,1204.5 L281.5,1204.9 L283.0,1203.9 L284.6,1204.5 L286.1,1204.1 L287.6,1202.2 L289.2,1202.0 L290.7,1201.8 L292.2,1203.0 L293.7,1201.7 L295.2,1201.9 L296.8,1201.0 L298.3,1201.1 L299.9,1200.7 L301.4,1200.4 L303.0,1200.7 L304.5,1200.5 L306.1,1201.0 L307.6,1200.4 L309.2,1200.8 L310.8,1200.5 L312.3,1200.7 L313.9,1199.9 L315.4,1198.8 L317.0,1200.0 L318.5,1200.1 L320.1,1199.9 L321.6,1199.1 L323.2,1199.2 L324.8,1198.1 L326.3,1199.2 L327.9,1198.5 L329.4,1197.8 L331.0,1197.3 L332.6,1198.7 L334.1,1198.9 L335.7,1197.0 L337.2,1198.3 L338.8,1197.4 L340.4,1196.7 L341.9,1196.9 L343.5,1197.8 L345.1,1197.9 L346.6,1196.1 L348.2,1197.1 L349.7,1195.9 L351.3,1197.1 L352.8,1196.3 L354.3,1197.3 L355.8,1197.4 L357.3,1196.4 L358.7,1197.3 L360.1,1195.8 L361.6,1195.3 L363.0,1196.2 L364.5,1195.0 L366.0,1195.3 L367.5,1195.6 L369.0,1196.0 L370.6,1195.0 L372.2,1194.7 L373.9,1196.3 L375.7,1195.1 L377.5,1196.3 L379.4,1196.1 L380.7,1195.0 L382.0,1195.1 L383.3,1195.2 L384.7,1195.4 L386.0,1195.3 L387.5,1195.2 L388.9,1195.2 L390.3,1195.8 L391.8,1194.9 L393.3,1194.7 L394.8,1195.3 L396.4,1194.3 L397.9,1194.4 L399.4,1195.7 L401.0,1194.7 L402.6,1194.7 L404.2,1193.6 L405.7,1194.4 L407.3,1194.7 L408.9,1193.5 L410.5,1194.6 L412.1,1194.6 L413.7,1193.4 L415.3,1194.5 L416.8,1194.1 L418.4,1194.5 L420.0,1193.8 L421.5,1194.4 L423.0,1194.4 L424.3,1192.9 L425.7,1192.9 L427.0,1194.1 L428.2,1194.6 L429.5,1193.1 L430.7,1193.4 L431.8,1193.6 L433.0,1193.0 L434.2,1193.0 L435.3,1192.8 L436.5,1192.8 L437.7,1193.2 L439.0,1192.5 L440.2,1192.6 L441.5,1193.3 L442.9,1191.7 L444.3,1192.7 L445.8,1192.9 L447.3,1192.0 L448.9,1191.7 L450.7,1192.8 L452.5,1191.5 L454.4,1191.3 L456.4,1191.7 L458.5,1192.1 L460.7,1190.8 L463.1,1191.2 L465.6,1191.1 L466.7,1192.0 L467.8,1191.2 L468.9,1192.0 L470.0,1190.5 L471.2,1190.8 L472.3,1191.4 L473.5,1191.8 L474.7,1190.9 L475.9,1190.4 L477.1,1190.1 L478.4,1190.9 L479.6,1190.2 L480.9,1191.4 L482.2,1191.4 L483.5,1190.0 L484.8,1190.1 L486.2,1191.1 L487.5,1190.7 L488.9,1191.0 L490.2,1190.0 L491.6,1189.6 L493.0,1189.8 L494.4,1190.8 L495.9,1189.7 L497.3,1189.8 L498.8,1189.8 L500.2,1189.8 L501.7,1189.7 L503.2,1190.7 L504.7,1189.1 L506.2,1188.7 L507.7,1190.5 L509.2,1190.3 L510.8,1190.5 L512.3,1189.3 L513.9,1190.3 L515.4,1190.2 L517.0,1188.7 L518.6,1189.7 L520.2,1189.8 L521.8,1189.4 L523.4,1189.1 L525.0,1188.6 L526.7,1188.6 L528.3,1188.3 L529.9,1187.9 L531.6,1188.9 L533.2,1188.3 L534.9,1189.3 L536.6,1187.7 L538.3,1189.3 L539.9,1188.9 L541.6,1189.3 L543.3,1189.1 L545.0,1189.1 L546.7,1188.4 L548.4,1187.2 L550.1,1188.6 L551.9,1187.4 L553.6,1187.6 L555.3,1188.3 L557.0,1188.0 L558.8,1187.7 L560.5,1188.7 L562.3,1188.0 L564.0,1187.4 L565.7,1187.2 L567.5,1188.3 L569.2,1187.5 L571.0,1188.1 L572.3,1187.2 L573.7,1186.8 L575.0,1187.5 L576.4,1188.0 L577.8,1186.7 L579.2,1187.9 L580.6,1188.1 L582.0,1187.8 L583.4,1187.8 L584.8,1186.2 L586.3,1187.4 L587.7,1187.8 L589.2,1186.1 L590.7,1186.5 L592.2,1186.5 L593.7,1187.0 L595.2,1186.7 L596.7,1186.8 L598.2,1187.4 L599.7,1185.8 L601.3,1185.9 L602.8,1186.0 L604.4,1185.9 L605.9,1185.8 L607.5,1187.6 L609.1,1187.3 L610.6,1185.7 L612.2,1186.5 L613.8,1186.1 L615.4,1186.1 L617.0,1186.1 L618.6,1186.7 L620.2,1186.5 L621.8,1186.0 L623.4,1185.6 L625.0,1185.9 L626.6,1185.4 L628.2,1186.3 L629.9,1186.6 L631.5,1185.8 L633.1,1185.2 L634.7,1185.4 L636.3,1185.7 L638.0,1186.2 L639.6,1186.5 L641.2,1185.7 L642.8,1186.5 L644.5,1186.1 L646.1,1185.7 L647.7,1185.5 L649.3,1185.7 L650.9,1186.1 L652.5,1185.5 L654.1,1186.0 L655.7,1185.5 L657.3,1185.1 L658.9,1185.6 L660.5,1185.9 L662.1,1184.6 L663.7,1185.3 L665.3,1185.3 L666.8,1186.2 L668.4,1186.2 L670.0,1185.1 L671.5,1186.1 L673.0,1185.9 L674.6,1184.8 L676.1,1185.2 L677.6,1184.4 L679.2,1185.8 L680.7,1185.5 L682.2,1185.9 L683.6,1185.7 L685.1,1185.4 L686.6,1185.5 L688.0,1185.1 L689.5,1184.2 L690.9,1185.1 L692.4,1183.9 L693.8,1184.2 L695.2,1185.4 L696.6,1183.9 L698.0,1184.0 L699.3,1184.0 L700.7,1185.5 L702.0,1184.1 L703.3,1183.8 L704.7,1185.4 L706.0,1183.9 L707.2,1185.4 L708.5,1185.0 L709.8,1185.3 L711.0,1185.5 L712.9,1184.7 L714.8,1185.1 L716.6,1183.6 L718.4,1185.0 L720.1,1184.5 L721.8,1184.8 L723.5,1183.6 L725.1,1184.8 L726.7,1185.2 L728.2,1183.4 L729.8,1183.9 L731.3,1184.4 L732.7,1184.9 L734.2,1183.7 L735.6,1183.5 L737.0,1183.6 L738.3,1184.4 L739.7,1184.6 L741.0,1183.9 L742.3,1183.8 L743.6,1183.8 L744.9,1183.7 L746.2,1183.8 L747.5,1183.1 L748.7,1184.0 L750.0,1184.9 L751.2,1183.7 L752.5,1184.4 L753.7,1183.2 L755.0,1184.2 L756.3,1184.4 L757.5,1184.2 L758.8,1183.8 L760.1,1183.8 L761.4,1184.1 L762.7,1184.6 L764.0,1183.0 L765.3,1182.9 L766.7,1184.2 L768.0,1184.5 L769.4,1183.7 L770.8,1183.6 L772.3,1184.1 L773.7,1183.0 L775.2,1183.2 L776.7,1183.0 L778.3,1183.8 L779.9,1183.2 L781.5,1183.1 L783.1,1184.0 L784.8,1184.5 L786.6,1183.2 L788.4,1184.0 L790.2,1183.4 L792.0,1184.2 L794.0,1183.7 L795.9,1183.1 L797.9,1182.9 L800.0,1182.5 L801.2,1183.5 L802.4,1183.3 L803.6,1182.8 L804.8,1183.2 L806.0,1183.1 L807.2,1184.0 L808.4,1182.7 L809.7,1184.4 L810.9,1183.4 L812.1,1183.6 L813.4,1183.4 L814.7,1184.1 L815.9,1184.1 L817.2,1183.5 L818.5,1183.4 L819.8,1183.8 L821.1,1184.1 L822.4,1183.2 L823.7,1183.9 L825.0,1184.3 L826.3,1183.3 L827.7,1182.8 L829.0,1182.8 L830.3,1183.8 L831.7,1183.7 L833.0,1184.3 L834.4,1184.1 L835.8,1182.8 L837.2,1182.7 L838.5,1182.8 L839.9,1182.7 L841.3,1183.7 L842.7,1184.0 L844.1,1184.1 L845.6,1182.8 L847.0,1184.0 L848.4,1182.9 L849.8,1183.1 L851.3,1183.7 L852.7,1182.4 L854.2,1182.5 L855.6,1183.9 L857.1,1182.8 L858.6,1183.0 L860.1,1183.4 L861.5,1183.6 L863.0,1182.3 L864.5,1182.9 L866.0,1183.1 L867.5,1183.2 L869.0,1182.7 L870.6,1183.4 L872.1,1184.1 L873.6,1183.0 L875.1,1183.3 L876.7,1182.5 L878.2,1182.8 L879.8,1183.6 L881.3,1182.4 L882.9,1184.0 L884.5,1184.0 L886.0,1182.4 L887.6,1184.1 L889.2,1183.0 L890.8,1183.8 L892.4,1183.7 L894.0,1182.8 L895.6,1183.6 L897.2,1183.5 L898.8,1183.8 L900.4,1182.8 L902.0,1183.7 L903.6,1184.2 L905.3,1183.6 L906.9,1183.3 L908.6,1182.5 L910.2,1183.2 L911.8,1183.0 L913.5,1183.7 L915.2,1183.6 L916.8,1183.4 L918.5,1182.6 L920.2,1183.6 L921.8,1183.5 L923.5,1182.6 L925.2,1184.1 L926.9,1183.6 L928.6,1182.6 L930.3,1184.2 L932.0,1182.6 L933.7,1183.0 L935.4,1183.8 L937.1,1183.5 L938.8,1183.5 L940.6,1183.7 L942.3,1183.3 L944.0,1183.0 L945.8,1182.8 L947.5,1182.6 L949.2,1183.9 L951.0,1184.0 L952.7,1183.5 L954.5,1183.9 L956.2,1183.2 L958.0,1183.0 L959.3,1183.3 L960.6,1184.3 L962.0,1182.6 L963.3,1183.6 L964.6,1183.1 L966.0,1184.1 L967.3,1183.3 L968.7,1183.3 L970.1,1183.4 L971.4,1183.7 L972.8,1184.2 L974.2,1183.4 L975.6,1184.4 L977.0,1182.9 L978.4,1183.3 L979.8,1182.9 L981.2,1183.0 L982.6,1184.3 L984.0,1184.2 L985.5,1183.2 L986.9,1183.2 L988.3,1183.7 L989.8,1184.3 L991.2,1184.5 L992.7,1184.4 L994.1,1184.1 L995.6,1183.2 L997.1,1183.8 L998.5,1183.4 L1000.0,1184.1 L1001.5,1184.2 L1002.9,1183.5 L1004.4,1183.6 L1005.9,1184.7 L1007.4,1183.2 L1008.9,1184.7 L1010.4,1184.9 L1011.9,1185.1 L1013.4,1184.0 L1014.9,1184.3 L1016.4,1184.4 L1018.0,1184.5 L1019.5,1185.3 L1021.0,1184.7 L1022.5,1183.9 L1024.1,1185.1 L1025.6,1184.4 L1027.1,1184.6 L1028.7,1184.9 L1030.2,1183.5 L1031.7,1185.0 L1033.3,1184.9 L1034.8,1184.5 L1036.4,1184.6 L1037.9,1184.5 L1039.5,1184.0 L1041.0,1184.7 L1042.6,1183.8 L1044.2,1184.7 L1045.7,1185.0 L1047.3,1184.7 L1048.8,1184.9 L1050.4,1185.7 L1052.0,1185.6 L1053.5,1184.1 L1055.1,1185.5 L1056.7,1185.2 L1058.3,1184.1 L1059.8,1184.7 L1061.4,1184.5 L1063.0,1184.2 L1064.5,1185.1 L1066.1,1185.9 L1067.7,1184.8 L1069.3,1185.9 L1070.9,1185.6 L1072.4,1184.5 L1074.0,1185.9 L1075.6,1185.5 L1077.2,1186.1 L1078.7,1185.7 L1080.3,1185.8 L1081.9,1185.0 L1083.5,1186.0 L1085.0,1186.3 L1086.6,1186.2 L1088.2,1185.3 L1089.8,1186.0 L1091.3,1185.5 L1092.9,1184.8 L1094.5,1184.7 L1096.0,1184.8 L1097.6,1185.0 L1099.2,1185.0 L1100.8,1185.7 L1102.3,1186.1 L1103.9,1185.8 L1105.4,1185.6 L1107.0,1186.1 L1108.6,1185.4 L1110.1,1185.8 L1111.7,1186.4 L1113.2,1185.7 L1114.8,1185.3 L1116.3,1186.7 L1117.9,1186.4 L1119.4,1185.7 L1121.0,1185.8 L1122.5,1186.1 L1124.0,1186.3 L1125.6,1185.5 L1127.1,1185.1 L1128.6,1185.6 L1130.2,1186.7 L1131.7,1185.5 L1133.2,1186.1 L1134.7,1185.6 L1136.2,1185.7 L1137.8,1185.6 L1139.3,1186.1 L1140.8,1185.7 L1142.3,1185.4 L1143.8,1185.6 L1145.3,1185.7 L1146.7,1186.4 L1148.2,1185.5 L1149.7,1185.5 L1151.2,1186.4 L1152.7,1186.3 L1154.1,1186.9 L1155.6,1185.6 L1157.1,1186.3 L1158.5,1186.4 L1160.0,1185.6 L1161.4,1187.5 L1162.9,1186.1 L1164.3,1185.8 L1165.7,1186.6 L1167.2,1186.0 L1168.6,1186.9 L1170.0,1186.4 L1171.6,1186.0 L1173.2,1185.8 L1174.9,1187.2 L1176.5,1186.3 L1178.2,1187.4 L1179.8,1186.7 L1181.5,1187.7 L1183.1,1186.4 L1184.8,1186.4 L1186.5,1186.4 L1188.2,1187.5 L1189.9,1187.2 L1191.6,1186.6 L1193.3,1186.1 L1195.0,1187.3 L1196.7,1187.9 L1198.4,1187.2 L1200.2,1186.0 L1201.9,1186.1 L1203.6,1186.2 L1205.4,1186.4 L1207.1,1186.1 L1208.8,1186.2 L1210.6,1187.4 L1212.3,1187.9 L1214.1,1186.5 L1215.9,1188.1 L1217.6,1187.1 L1219.4,1187.8 L1221.1,1188.0 L1222.9,1188.1 L1224.7,1186.3 L1226.4,1186.8 L1228.2,1187.4 L1229.9,1188.1 L1231.7,1186.4 L1233.5,1186.9 L1235.2,1188.0 L1237.0,1186.5 L1238.8,1187.1 L1240.5,1187.0 L1242.3,1187.7 L1244.0,1188.2 L1245.8,1186.7 L1247.5,1187.8 L1249.3,1187.8 L1251.0,1188.1 L1252.8,1187.5 L1254.5,1188.3 L1256.3,1187.1 L1258.0,1187.3 L1259.7,1186.9 L1261.5,1188.0 L1263.2,1187.4 L1264.9,1187.0 L1266.6,1186.8 L1268.3,1187.9 L1270.0,1187.7 L1271.7,1187.9 L1273.4,1187.3 L1275.1,1187.5 L1276.8,1186.9 L1278.4,1188.0 L1280.1,1186.6 L1281.7,1187.5 L1283.4,1188.1 L1285.0,1188.0 L1286.6,1186.8 L1288.3,1187.1 L1289.9,1188.3 L1291.5,1187.9 L1293.1,1188.4 L1294.7,1188.4 L1296.2,1187.6 L1297.8,1188.5 L1299.4,1188.1 L1300.9,1187.4 L1302.4,1187.4 L1304.0,1186.8 L1305.5,1187.5 L1307.0,1188.6 L1308.5,1186.9 L1309.9,1187.9 L1311.4,1187.0 L1312.9,1186.9 L1314.3,1188.1 L1315.7,1187.2 L1317.1,1186.9 L1318.5,1187.1 L1319.9,1188.1 L1321.3,1188.0 L1322.6,1186.8 L1324.0,1187.3 L1325.3,1188.8 L1326.6,1187.3 L1327.9,1188.0 L1329.2,1187.7 L1330.5,1188.4 L1331.7,1188.1 L1333.0,1188.4 L1334.2,1187.9 L1335.4,1187.2 L1336.6,1187.2 L1337.7,1187.0 L1338.9,1188.5 L1340.0,1187.1 L1341.1,1187.0 L1342.2,1188.8 L1343.3,1187.3 L1344.3,1188.7 L1345.4,1187.1 L1346.4,1187.9 L1347.4,1187.4 L1348.4,1188.6 L1349.3,1188.2 L1350.3,1188.2 L1351.2,1188.5 L1352.1,1188.7 L1353.0,1187.7 L1353.8,1188.2 L1354.6,1187.9 L1355.4,1187.2 L1356.2,1188.7 L1357.0,1188.2" stroke="#000" stroke-width="11.7" fill="none"/><path d="M234.8,1226.5 L235.2,1229.4 L236.0,1233.0 L236.7,1235.7 L239.0,1238.8 L240.9,1240.5 L243.1,1242.5 L245.9,1244.6 L249.1,1246.7 L253.0,1248.6 L255.5,1249.6 L258.3,1250.6 L261.3,1251.6 L264.5,1252.6 L267.8,1253.5 L271.1,1254.5 L274.5,1255.3 L277.8,1256.2 L281.0,1257.0 L284.1,1257.8 L287.2,1258.5 L290.3,1259.2 L293.4,1259.8 L296.5,1260.4 L299.6,1261.0 L302.8,1261.6 L305.9,1262.1 L309.0,1262.6 L312.1,1263.1 L315.3,1263.5 L318.4,1264.0 L321.6,1264.4 L324.7,1264.8 L327.9,1265.1 L331.0,1265.5 L334.2,1265.8 L337.3,1266.1 L340.4,1266.4 L343.6,1266.7 L346.7,1266.9 L349.8,1267.1 L352.9,1267.3 L356.0,1267.5 L359.2,1267.8 L362.3,1268.0 L365.4,1268.2 L368.5,1268.4 L371.6,1268.7 L374.7,1269.0 L377.8,1269.3 L381.0,1269.5 L384.1,1269.8 L387.2,1270.0 L390.3,1270.2 L393.4,1270.4 L396.4,1270.5 L399.3,1270.6 L402.2,1270.7 L405.0,1270.8 L407.9,1270.8 L410.9,1270.9 L414.2,1270.9 L417.7,1270.9 L421.5,1271.0 L424.0,1271.0 L426.4,1271.1 L428.8,1271.1 L431.1,1271.2 L433.6,1271.2 L436.1,1271.2 L438.7,1271.3 L441.6,1271.3 L444.7,1271.3 L448.1,1271.4 L451.8,1271.4 L455.9,1271.4 L460.5,1271.5 L465.6,1271.5 L467.8,1271.5 L470.0,1271.5 L472.3,1271.5 L474.7,1271.6 L477.1,1271.6 L479.6,1271.6 L482.2,1271.6 L484.8,1271.6 L487.5,1271.6 L490.2,1271.6 L493.0,1271.6 L495.9,1271.6 L498.8,1271.6 L501.7,1271.7 L504.7,1271.7 L507.7,1271.7 L510.8,1271.7 L513.9,1271.7 L517.0,1271.7 L520.2,1271.7 L523.4,1271.7 L526.7,1271.7 L529.9,1271.8 L533.2,1271.8 L536.6,1271.8 L539.9,1271.8 L543.3,1271.8 L546.7,1271.8 L550.1,1271.9 L553.6,1271.9 L557.0,1271.9 L560.5,1271.9 L564.0,1271.9 L567.5,1272.0 L571.0,1272.0 L573.6,1272.0 L576.3,1272.0 L578.8,1272.1 L581.4,1272.1 L583.9,1272.1 L586.5,1272.1 L588.9,1272.2 L591.4,1272.2 L593.9,1272.2 L596.4,1272.3 L598.8,1272.3 L601.3,1272.3 L603.8,1272.3 L606.3,1272.4 L608.8,1272.4 L611.3,1272.4 L613.8,1272.5 L616.3,1272.5 L618.9,1272.5 L621.5,1272.6 L624.1,1272.6 L626.8,1272.6 L629.5,1272.7 L632.3,1272.7 L635.1,1272.7 L637.9,1272.8 L640.8,1272.8 L643.8,1272.8 L646.8,1272.9 L649.9,1272.9 L653.1,1272.9 L656.3,1273.0 L659.6,1273.0 L663.0,1273.0 L666.5,1273.1 L670.0,1273.1 L673.6,1273.2 L677.4,1273.2 L681.2,1273.2 L685.1,1273.3 L689.2,1273.3 L693.3,1273.3 L697.6,1273.4 L701.9,1273.4 L706.4,1273.5 L711.0,1273.5 L713.2,1273.5 L715.5,1273.5 L717.8,1273.6 L720.1,1273.6 L722.5,1273.6 L724.8,1273.6 L727.2,1273.6 L729.7,1273.6 L732.1,1273.7 L734.5,1273.7 L737.0,1273.7 L739.5,1273.7 L742.1,1273.7 L744.6,1273.8 L747.2,1273.8 L749.8,1273.8 L752.4,1273.8 L755.0,1273.8 L757.6,1273.9 L760.3,1273.9 L763.0,1273.9 L765.7,1273.9 L768.4,1273.9 L771.2,1274.0 L773.9,1274.0 L776.7,1274.0 L779.5,1274.0 L782.3,1274.0 L785.2,1274.1 L788.0,1274.1 L790.9,1274.1 L793.8,1274.1 L796.7,1274.1 L799.6,1274.2 L802.5,1274.2 L805.5,1274.2 L808.4,1274.2 L811.4,1274.2 L814.4,1274.3 L817.4,1274.3 L820.4,1274.3 L823.5,1274.3 L826.5,1274.4 L829.6,1274.4 L832.6,1274.4 L835.7,1274.4 L838.8,1274.4 L841.9,1274.5 L845.1,1274.5 L848.2,1274.5 L851.3,1274.5 L854.5,1274.5 L857.7,1274.6 L860.8,1274.6 L864.0,1274.6 L867.2,1274.6 L870.4,1274.6 L873.6,1274.7 L876.9,1274.7 L880.1,1274.7 L883.3,1274.7 L886.6,1274.8 L889.8,1274.8 L893.1,1274.8 L896.4,1274.8 L899.7,1274.8 L903.0,1274.9 L906.2,1274.9 L909.5,1274.9 L912.8,1274.9 L916.2,1275.0 L919.5,1275.0 L922.8,1275.0 L926.1,1275.0 L929.5,1275.0 L932.8,1275.1 L936.1,1275.1 L939.5,1275.1 L942.8,1275.1 L946.2,1275.1 L949.5,1275.2 L952.9,1275.2 L956.2,1275.2 L959.6,1275.2 L963.0,1275.3 L966.3,1275.3 L969.7,1275.3 L973.1,1275.3 L976.4,1275.3 L979.8,1275.4 L983.2,1275.4 L986.5,1275.4 L989.9,1275.4 L993.3,1275.5 L996.6,1275.5 L1000.0,1275.5 L1002.7,1275.5 L1005.5,1275.5 L1008.3,1275.6 L1011.1,1275.6 L1014.0,1275.6 L1016.9,1275.6 L1019.8,1275.6 L1022.8,1275.6 L1025.7,1275.7 L1028.8,1275.7 L1031.8,1275.7 L1034.9,1275.7 L1038.0,1275.7 L1041.1,1275.8 L1044.2,1275.8 L1047.4,1275.8 L1050.6,1275.8 L1053.8,1275.8 L1057.0,1275.9 L1060.2,1275.9 L1063.5,1275.9 L1066.8,1275.9 L1070.1,1275.9 L1073.4,1276.0 L1076.8,1276.0 L1080.1,1276.0 L1083.5,1276.0 L1086.9,1276.1 L1090.3,1276.1 L1093.7,1276.1 L1097.1,1276.1 L1100.5,1276.1 L1104.0,1276.2 L1107.5,1276.2 L1110.9,1276.2 L1114.4,1276.2 L1117.9,1276.2 L1121.4,1276.3 L1124.9,1276.3 L1128.4,1276.3 L1131.9,1276.3 L1135.4,1276.4 L1138.9,1276.4 L1142.4,1276.4 L1145.9,1276.4 L1149.4,1276.4 L1152.9,1276.5 L1156.4,1276.5 L1160.0,1276.5 L1163.5,1276.5 L1167.0,1276.5 L1170.5,1276.6 L1174.0,1276.6 L1177.5,1276.6 L1181.0,1276.6 L1184.4,1276.7 L1187.9,1276.7 L1191.4,1276.7 L1194.8,1276.7 L1198.3,1276.7 L1201.7,1276.8 L1205.1,1276.8 L1208.6,1276.8 L1212.0,1276.8 L1215.3,1276.8 L1218.7,1276.9 L1222.1,1276.9 L1225.4,1276.9 L1228.7,1276.9 L1232.0,1276.9 L1235.3,1277.0 L1238.6,1277.0 L1241.8,1277.0 L1245.1,1277.0 L1248.3,1277.0 L1251.5,1277.1 L1254.6,1277.1 L1257.8,1277.1 L1260.9,1277.1 L1264.0,1277.1 L1267.0,1277.2 L1270.1,1277.2 L1273.1,1277.2 L1276.1,1277.2 L1279.0,1277.2 L1282.0,1277.2 L1284.9,1277.3 L1287.7,1277.3 L1290.6,1277.3 L1293.4,1277.3 L1296.1,1277.3 L1298.9,1277.3 L1301.6,1277.4 L1304.2,1277.4 L1306.8,1277.4 L1309.4,1277.4 L1312.0,1277.4 L1314.5,1277.4 L1317.0,1277.5 L1319.4,1277.5 L1321.8,1277.5 L1324.1,1277.5 L1326.4,1277.5 L1328.7,1277.5 L1330.9,1277.5 L1333.1,1277.6 L1335.2,1277.6 L1337.3,1277.6 L1339.4,1277.6 L1341.4,1277.6 L1343.3,1277.6 L1345.2,1277.6 L1347.0,1277.6 L1348.8,1277.6 L1350.6,1277.7 L1352.3,1277.7 L1353.9,1277.7 L1355.5,1277.7 L1357.0,1277.7" stroke="#ff0000" stroke-width="12.5" fill="none" stroke-linejoin="round" stroke-linecap="butt"/><path d="M234.8,1227.1 L235.0,1227.1 L235.2,1229.5 L235.5,1231.2 L236.0,1233.5 L236.4,1233.6 L236.7,1235.4 L237.4,1237.1 L239.0,1237.9 L239.8,1239.7 L240.7,1240.8 L241.6,1241.1 L242.7,1242.4 L243.8,1243.3 L245.1,1243.4 L246.4,1244.7 L247.9,1246.9 L249.5,1246.5 L251.2,1247.6 L253.0,1247.8 L254.1,1248.5 L255.4,1248.9 L256.6,1250.9 L258.0,1251.0 L259.4,1251.7 L260.8,1252.4 L262.3,1252.1 L263.8,1253.2 L265.3,1252.9 L266.9,1253.1 L268.5,1254.6 L270.1,1255.0 L271.7,1255.5 L273.3,1255.0 L274.9,1256.0 L276.4,1255.7 L278.0,1257.2 L279.5,1257.5 L281.0,1256.6 L282.5,1258.2 L283.9,1257.1 L285.4,1257.3 L286.9,1258.8 L288.4,1258.3 L289.8,1259.1 L291.3,1259.6 L292.8,1258.7 L294.2,1260.5 L295.7,1259.8 L297.2,1260.4 L298.7,1260.5 L300.1,1261.6 L301.6,1261.8 L303.1,1261.2 L304.6,1261.1 L306.0,1261.7 L307.5,1262.2 L309.0,1261.8 L310.5,1262.1 L312.0,1263.6 L313.5,1263.7 L314.9,1264.5 L316.4,1264.7 L317.9,1264.7 L319.4,1263.8 L320.9,1263.6 L322.4,1264.1 L323.9,1264.6 L325.4,1264.9 L326.9,1265.1 L328.4,1264.9 L329.9,1266.0 L331.3,1265.1 L332.8,1265.6 L334.3,1266.6 L335.8,1266.6 L337.3,1265.7 L338.9,1265.7 L340.4,1267.0 L342.0,1265.5 L343.6,1265.9 L345.1,1266.8 L346.7,1267.0 L348.2,1266.3 L349.8,1266.2 L351.4,1266.6 L352.9,1267.9 L354.5,1267.4 L356.0,1268.5 L357.6,1268.2 L359.2,1268.7 L360.7,1266.9 L362.3,1267.3 L363.8,1267.1 L365.4,1268.1 L367.0,1268.0 L368.5,1267.6 L370.1,1268.7 L371.6,1267.9 L373.2,1268.5 L374.7,1268.5 L376.3,1269.7 L377.8,1269.1 L379.4,1268.9 L381.0,1268.6 L382.5,1269.5 L384.1,1270.0 L385.6,1270.3 L387.2,1270.8 L388.7,1270.7 L390.3,1269.7 L391.8,1269.6 L393.4,1270.9 L394.9,1271.1 L396.4,1270.6 L397.9,1271.3 L399.3,1270.7 L400.8,1270.2 L402.2,1270.1 L403.6,1269.8 L405.0,1271.1 L406.4,1271.6 L407.9,1271.6 L409.4,1270.8 L410.9,1271.2 L412.5,1271.7 L414.2,1271.5 L415.9,1271.1 L417.7,1270.8 L419.5,1271.0 L421.5,1270.3 L422.7,1270.4 L423.9,1271.4 L425.1,1272.0 L426.3,1271.2 L427.4,1270.9 L428.5,1270.8 L429.7,1271.0 L430.8,1271.8 L432.0,1271.1 L433.1,1272.1 L434.3,1270.5 L435.5,1270.8 L436.8,1271.3 L438.1,1271.1 L439.4,1272.0 L440.8,1271.9 L442.2,1272.2 L443.7,1271.5 L445.2,1270.4 L446.9,1271.5 L448.6,1271.5 L450.3,1271.4 L452.2,1271.0 L454.2,1271.8 L456.2,1272.3 L458.4,1270.7 L460.7,1271.8 L463.1,1271.2 L465.6,1271.5 L466.7,1272.3 L467.8,1272.4 L468.9,1271.8 L470.0,1270.9 L471.2,1272.4 L472.3,1270.9 L473.5,1271.3 L474.7,1272.2 L475.9,1271.2 L477.1,1271.1 L478.4,1272.5 L479.6,1272.5 L480.9,1271.2 L482.2,1271.4 L483.5,1271.2 L484.8,1270.9 L486.2,1271.1 L487.5,1272.6 L488.9,1270.8 L490.2,1271.1 L491.6,1271.0 L493.0,1270.8 L494.4,1271.7 L495.9,1272.1 L497.3,1272.3 L498.8,1271.9 L500.2,1272.3 L501.7,1270.7 L503.2,1271.2 L504.7,1272.6 L506.2,1270.8 L507.7,1271.2 L509.2,1271.6 L510.8,1271.2 L512.3,1271.8 L513.9,1270.8 L515.4,1271.2 L517.0,1272.6 L518.6,1271.0 L520.2,1272.5 L521.8,1271.1 L523.4,1272.7 L525.0,1272.1 L526.7,1272.0 L528.3,1271.0 L529.9,1270.9 L531.6,1272.3 L533.2,1271.1 L534.9,1271.2 L536.6,1272.4 L538.3,1272.5 L539.9,1270.9 L541.6,1272.7 L543.3,1271.9 L545.0,1271.6 L546.7,1271.1 L548.4,1271.6 L550.1,1272.8 L551.9,1271.4 L553.6,1271.1 L555.3,1271.2 L557.0,1271.2 L558.8,1271.6 L560.5,1272.8 L562.3,1271.1 L564.0,1271.3 L565.7,1272.8 L567.5,1273.0 L569.2,1272.9 L571.0,1271.5 L572.3,1271.7 L573.6,1272.9 L574.9,1272.0 L576.2,1272.5 L577.5,1271.7 L578.8,1271.1 L580.0,1271.8 L581.3,1272.6 L582.6,1272.7 L583.8,1272.3 L585.0,1272.1 L586.3,1272.2 L587.5,1272.0 L588.8,1272.2 L590.0,1272.8 L591.2,1271.6 L592.4,1272.4 L593.7,1273.1 L594.9,1272.9 L596.1,1271.6 L597.3,1273.2 L598.6,1273.0 L599.8,1271.6 L601.0,1271.8 L602.2,1271.7 L603.4,1271.4 L604.7,1273.3 L605.9,1272.2 L607.1,1273.1 L608.3,1271.6 L609.6,1271.4 L610.8,1273.2 L612.1,1273.0 L613.3,1273.4 L614.6,1272.8 L615.8,1272.5 L617.1,1273.0 L618.4,1271.7 L619.7,1272.6 L620.9,1272.4 L622.2,1271.9 L623.5,1272.8 L624.9,1272.2 L626.2,1272.6 L627.5,1272.4 L628.9,1272.3 L630.2,1272.4 L631.6,1272.9 L632.9,1273.7 L634.3,1273.6 L635.7,1273.5 L637.1,1273.4 L638.6,1272.3 L640.0,1273.7 L641.4,1272.3 L642.9,1272.1 L644.4,1272.8 L645.9,1273.3 L647.4,1272.6 L648.9,1273.2 L650.5,1272.5 L652.0,1273.9 L653.6,1272.8 L655.2,1272.9 L656.8,1273.0 L658.4,1273.7 L660.1,1274.0 L661.7,1273.1 L663.4,1272.9 L665.1,1273.3 L666.9,1272.2 L668.6,1273.0 L670.4,1273.8 L672.2,1273.7 L674.0,1272.3 L675.8,1273.9 L677.7,1273.0 L679.6,1274.2 L681.5,1273.0 L683.4,1272.7 L685.4,1273.4 L687.4,1274.1 L689.4,1273.2 L691.4,1274.1 L693.5,1273.8 L695.6,1273.1 L697.7,1273.0 L699.8,1273.4 L702.0,1273.2 L704.2,1273.2 L706.4,1273.8 L708.7,1274.2 L711.0,1273.7 L712.1,1272.8 L713.2,1273.0 L714.4,1273.3 L715.5,1273.8 L716.7,1272.8 L717.8,1272.7 L719.0,1273.2 L720.1,1273.1 L721.3,1272.6 L722.5,1273.7 L723.7,1274.4 L724.8,1273.7 L726.0,1274.1 L727.2,1274.3 L728.4,1274.3 L729.7,1274.5 L730.9,1273.5 L732.1,1274.0 L733.3,1272.9 L734.5,1274.4 L735.8,1273.5 L737.0,1273.7 L738.3,1274.5 L739.5,1273.3 L740.8,1273.1 L742.1,1274.4 L743.3,1274.0 L744.6,1272.9 L745.9,1272.8 L747.2,1273.5 L748.5,1272.8 L749.8,1274.5 L751.1,1273.2 L752.4,1273.4 L753.7,1273.6 L755.0,1273.9 L756.3,1273.7 L757.6,1274.1 L759.0,1274.2 L760.3,1273.8 L761.7,1273.1 L763.0,1274.9 L764.4,1274.3 L765.7,1273.1 L767.1,1273.8 L768.4,1274.4 L769.8,1274.9 L771.2,1273.1 L772.6,1273.0 L773.9,1273.9 L775.3,1273.8 L776.7,1274.8 L778.1,1274.7 L779.5,1273.7 L780.9,1273.9 L782.3,1274.2 L783.8,1274.8 L785.2,1273.5 L786.6,1273.9 L788.0,1273.3 L789.5,1274.4 L790.9,1273.2 L792.3,1275.0 L793.8,1274.2 L795.2,1274.3 L796.7,1273.3 L798.1,1273.6 L799.6,1274.1 L801.1,1274.9 L802.5,1274.3 L804.0,1273.8 L805.5,1275.2 L807.0,1274.5 L808.4,1274.3 L809.9,1273.6 L811.4,1273.8 L812.9,1275.1 L814.4,1273.5 L815.9,1274.3 L817.4,1274.5 L818.9,1274.0 L820.4,1274.8 L821.9,1275.1 L823.5,1275.0 L825.0,1274.8 L826.5,1273.8 L828.0,1273.5 L829.6,1274.2 L831.1,1274.0 L832.6,1273.8 L834.2,1275.1 L835.7,1273.8 L837.3,1275.1 L838.8,1275.3 L840.4,1273.7 L841.9,1275.3 L843.5,1274.3 L845.1,1273.9 L846.6,1273.9 L848.2,1273.6 L849.8,1274.5 L851.3,1274.3 L852.9,1275.2 L854.5,1275.2 L856.1,1273.7 L857.7,1274.4 L859.2,1274.4 L860.8,1273.9 L862.4,1274.1 L864.0,1274.1 L865.6,1275.0 L867.2,1274.3 L868.8,1273.9 L870.4,1274.1 L872.0,1274.5 L873.6,1274.8 L875.3,1274.2 L876.9,1275.1 L878.5,1274.1 L880.1,1275.1 L881.7,1274.9 L883.3,1274.1 L885.0,1275.2 L886.6,1274.5 L888.2,1274.8 L889.8,1275.0 L891.5,1275.0 L893.1,1274.7 L894.7,1273.9 L896.4,1275.4 L898.0,1275.6 L899.7,1274.8 L901.3,1275.0 L903.0,1274.4 L904.6,1275.7 L906.2,1275.3 L907.9,1274.3 L909.5,1275.5 L911.2,1275.9 L912.8,1274.6 L914.5,1275.9 L916.2,1274.9 L917.8,1274.3 L919.5,1275.4 L921.1,1274.7 L922.8,1275.5 L924.5,1275.2 L926.1,1274.2 L927.8,1275.1 L929.5,1275.7 L931.1,1275.0 L932.8,1275.1 L934.5,1275.8 L936.1,1275.0 L937.8,1275.1 L939.5,1275.3 L941.1,1275.8 L942.8,1274.5 L944.5,1274.3 L946.2,1275.7 L947.8,1275.3 L949.5,1274.8 L951.2,1276.0 L952.9,1276.0 L954.6,1275.3 L956.2,1276.2 L957.9,1275.9 L959.6,1275.7 L961.3,1274.8 L963.0,1274.3 L964.6,1275.6 L966.3,1275.8 L968.0,1275.0 L969.7,1275.3 L971.4,1275.4 L973.1,1274.8 L974.7,1275.7 L976.4,1275.5 L978.1,1275.1 L979.8,1274.6 L981.5,1275.5 L983.2,1275.0 L984.8,1275.9 L986.5,1274.8 L988.2,1275.2 L989.9,1274.8 L991.6,1275.3 L993.3,1275.6 L995.0,1274.7 L996.6,1274.6 L998.3,1275.5 L1000.0,1274.9 L1001.4,1275.5 L1002.7,1274.9 L1004.1,1274.7 L1005.5,1275.6 L1006.9,1276.4 L1008.3,1276.3 L1009.7,1275.6 L1011.1,1275.4 L1012.6,1274.7 L1014.0,1275.1 L1015.4,1275.2 L1016.9,1276.5 L1018.3,1274.9 L1019.8,1276.5 L1021.3,1275.6 L1022.8,1275.5 L1024.3,1275.2 L1025.7,1276.6 L1027.2,1275.0 L1028.8,1275.8 L1030.3,1275.7 L1031.8,1275.1 L1033.3,1275.2 L1034.9,1276.7 L1036.4,1276.3 L1038.0,1276.2 L1039.5,1276.6 L1041.1,1275.0 L1042.6,1276.2 L1044.2,1276.3 L1045.8,1275.2 L1047.4,1275.7 L1049.0,1276.8 L1050.6,1275.5 L1052.2,1276.4 L1053.8,1275.2 L1055.4,1276.2 L1057.0,1275.4 L1058.6,1275.9 L1060.2,1275.6 L1061.9,1276.6 L1063.5,1276.4 L1065.2,1275.9 L1066.8,1276.3 L1068.4,1275.8 L1070.1,1276.6 L1071.8,1275.5 L1073.4,1276.1 L1075.1,1276.1 L1076.8,1275.8 L1078.4,1275.1 L1080.1,1275.3 L1081.8,1276.3 L1083.5,1275.5 L1085.2,1276.6 L1086.9,1276.1 L1088.6,1277.0 L1090.3,1276.8 L1092.0,1276.5 L1093.7,1275.8 L1095.4,1275.2 L1097.1,1276.2 L1098.8,1276.6 L1100.5,1277.0 L1102.3,1275.6 L1104.0,1275.5 L1105.7,1277.1 L1107.5,1276.7 L1109.2,1276.2 L1110.9,1276.7 L1112.7,1275.5 L1114.4,1276.3 L1116.1,1276.6 L1117.9,1276.5 L1119.6,1275.6 L1121.4,1275.5 L1123.1,1276.5 L1124.9,1277.1 L1126.6,1275.6 L1128.4,1275.3 L1130.1,1275.5 L1131.9,1276.9 L1133.6,1276.1 L1135.4,1276.3 L1137.1,1277.3 L1138.9,1276.6 L1140.6,1275.9 L1142.4,1276.8 L1144.1,1275.4 L1145.9,1276.0 L1147.7,1276.8 L1149.4,1275.8 L1151.2,1275.5 L1152.9,1276.5 L1154.7,1276.1 L1156.4,1277.4 L1158.2,1275.7 L1160.0,1277.1 L1161.7,1276.3 L1163.5,1277.1 L1165.2,1276.4 L1167.0,1276.9 L1168.7,1276.2 L1170.5,1276.0 L1172.2,1276.5 L1174.0,1277.2 L1175.7,1276.3 L1177.5,1276.1 L1179.2,1276.5 L1181.0,1275.8 L1182.7,1276.3 L1184.4,1276.8 L1186.2,1276.8 L1187.9,1276.9 L1189.7,1276.3 L1191.4,1275.7 L1193.1,1275.8 L1194.8,1276.4 L1196.6,1276.1 L1198.3,1276.9 L1200.0,1276.3 L1201.7,1277.3 L1203.4,1277.0 L1205.1,1277.1 L1206.9,1277.3 L1208.6,1276.8 L1210.3,1276.7 L1212.0,1276.4 L1213.7,1276.0 L1215.3,1277.4 L1217.0,1276.8 L1218.7,1276.1 L1220.4,1277.7 L1222.1,1277.0 L1223.7,1277.1 L1225.4,1276.8 L1227.1,1276.2 L1228.7,1277.9 L1230.4,1276.3 L1232.0,1276.7 L1233.7,1277.9 L1235.3,1276.2 L1237.0,1277.0 L1238.6,1276.9 L1240.2,1276.5 L1241.8,1277.8 L1243.5,1276.8 L1245.1,1276.0 L1246.7,1277.0 L1248.3,1276.0 L1249.9,1277.5 L1251.5,1277.8 L1253.1,1277.9 L1254.6,1276.2 L1256.2,1277.4 L1257.8,1276.7 L1259.3,1277.1 L1260.9,1276.7 L1262.4,1276.7 L1264.0,1276.4 L1265.5,1277.4 L1267.0,1276.3 L1268.6,1278.1 L1270.1,1276.3 L1271.6,1278.1 L1273.1,1276.6 L1274.6,1276.4 L1276.1,1277.7 L1277.6,1277.3 L1279.0,1277.8 L1280.5,1277.3 L1282.0,1277.5 L1283.4,1276.4 L1284.9,1277.6 L1286.3,1277.3 L1287.7,1278.2 L1289.1,1276.3 L1290.6,1276.4 L1292.0,1277.7 L1293.4,1278.2 L1294.7,1277.2 L1296.1,1277.8 L1297.5,1277.5 L1298.9,1277.1 L1300.2,1277.3 L1301.6,1277.6 L1302.9,1276.4 L1304.2,1277.0 L1305.5,1277.9 L1306.8,1276.9 L1308.1,1277.3 L1309.4,1276.9 L1310.7,1277.1 L1312.0,1277.7 L1313.2,1277.9 L1314.5,1278.4 L1315.7,1277.4 L1317.0,1276.9 L1318.2,1277.1 L1319.4,1276.6 L1320.6,1277.0 L1321.8,1277.7 L1323.0,1277.7 L1324.1,1277.0 L1325.3,1276.9 L1326.4,1276.7 L1327.6,1276.9 L1328.7,1277.5 L1329.8,1277.0 L1330.9,1278.3 L1332.0,1277.7 L1333.1,1277.2 L1334.2,1277.4 L1335.2,1276.6 L1336.3,1278.0 L1337.3,1278.1 L1338.4,1277.3 L1339.4,1278.0 L1340.4,1277.1 L1341.4,1277.0 L1342.3,1277.1 L1343.3,1277.0 L1344.3,1277.8 L1345.2,1277.9 L1346.1,1278.1 L1347.0,1276.8 L1347.9,1278.2 L1348.8,1277.6 L1349.7,1277.4 L1350.6,1277.7 L1351.4,1277.5 L1352.3,1277.1 L1353.1,1277.5 L1353.9,1278.0 L1354.7,1278.1 L1355.5,1278.5 L1356.2,1277.1 L1357.0,1278.5" stroke="#ff0000" stroke-width="11.2" fill="none"/><rect x="233.5" y="651.7" width="1126.5" height="757.9" fill="none" stroke="#000" stroke-width="8"/><line x1="217" y1="1409.6" x2="1364" y2="1409.6" stroke="#000" stroke-width="7.8"/><line x1="233.5" y1="647.7" x2="233.5" y2="1413.5" stroke="#000" stroke-width="8.6"/><line x1="217" y1="1410.0" x2="234" y2="1410.0" stroke="#000" stroke-width="7.5"/><text x="201.5" y="1425.2" font-family="Liberation Sans" font-size="51" font-weight="bold" text-anchor="end" fill="#000" >0</text><line x1="217" y1="1315.1" x2="234" y2="1315.1" stroke="#000" stroke-width="7.5"/><text x="201.5" y="1330.3" font-family="Liberation Sans" font-size="51" font-weight="bold" text-anchor="end" fill="#000" >5</text><line x1="217" y1="1220.2" x2="234" y2="1220.2" stroke="#000" stroke-width="7.5"/><text x="201.5" y="1235.4" font-family="Liberation Sans" font-size="51" font-weight="bold" text-anchor="end" fill="#000" textLength="59.5" lengthAdjust="spacingAndGlyphs" >10</text><line x1="217" y1="1125.3" x2="234" y2="1125.3" stroke="#000" stroke-width="7.5"/><text x="201.5" y="1140.5" font-family="Liberation Sans" font-size="51" font-weight="bold" text-anchor="end" fill="#000" textLength="59.5" lengthAdjust="spacingAndGlyphs" >15</text><line x1="217" y1="1030.4" x2="234" y2="1030.4" stroke="#000" stroke-width="7.5"/><text x="201.5" y="1045.6" font-family="Liberation Sans" font-size="51" font-weight="bold" text-anchor="end" fill="#000" textLength="59.5" lengthAdjust="spacingAndGlyphs" >20</text><line x1="217" y1="935.5" x2="234" y2="935.5" stroke="#000" stroke-width="7.5"/><text x="201.5" y="950.7" font-family="Liberation Sans" font-size="51" font-weight="bold" text-anchor="end" fill="#000" textLength="59.5" lengthAdjust="spacingAndGlyphs" >25</text><line x1="217" y1="840.6" x2="234" y2="840.6" stroke="#000" stroke-width="7.5"/><text x="201.5" y="855.8" font-family="Liberation Sans" font-size="51" font-weight="bold" text-anchor="end" fill="#000" textLength="59.5" lengthAdjust="spacingAndGlyphs" >30</text><line x1="217" y1="745.7" x2="234" y2="745.7" stroke="#000" stroke-width="7.5"/><text x="201.5" y="760.9" font-family="Liberation Sans" font-size="51" font-weight="bold" text-anchor="end" fill="#000" textLength="59.5" lengthAdjust="spacingAndGlyphs" >35</text><line x1="217" y1="650.8" x2="234" y2="650.8" stroke="#000" stroke-width="7.5"/><text x="201.5" y="666.0" font-family="Liberation Sans" font-size="51" font-weight="bold" text-anchor="end" fill="#000" textLength="59.5" lengthAdjust="spacingAndGlyphs" >40</text><line x1="226" y1="1362.5" x2="234" y2="1362.5" stroke="#000" stroke-width="6"/><line x1="226" y1="1267.7" x2="234" y2="1267.7" stroke="#000" stroke-width="6"/><line x1="226" y1="1172.8" x2="234" y2="1172.8" stroke="#000" stroke-width="6"/><line x1="226" y1="1077.8" x2="234" y2="1077.8" stroke="#000" stroke-width="6"/><line x1="226" y1="983.0" x2="234" y2="983.0" stroke="#000" stroke-width="6"/><line x1="226" y1="888.0" x2="234" y2="888.0" stroke="#000" stroke-width="6"/><line x1="226" y1="793.1" x2="234" y2="793.1" stroke="#000" stroke-width="6"/><line x1="226" y1="698.2" x2="234" y2="698.2" stroke="#000" stroke-width="6"/><text x="232.0" y="1462.5" font-family="Liberation Sans" font-size="51" font-weight="bold" text-anchor="middle" fill="#000" >0</text><line x1="421.5" y1="1409" x2="421.5" y2="1395" stroke="#000" stroke-width="7"/><text x="420.0" y="1462.5" font-family="Liberation Sans" font-size="51" font-weight="bold" text-anchor="middle" fill="#000" >2</text><line x1="609.5" y1="1409" x2="609.5" y2="1395" stroke="#000" stroke-width="7"/><text x="608.0" y="1462.5" font-family="Liberation Sans" font-size="51" font-weight="bold" text-anchor="middle" fill="#000" >4</text><line x1="797.5" y1="1409" x2="797.5" y2="1395" stroke="#000" stroke-width="7"/><text x="796.0" y="1462.5" font-family="Liberation Sans" font-size="51" font-weight="bold" text-anchor="middle" fill="#000" >6</text><line x1="985.5" y1="1409" x2="985.5" y2="1395" stroke="#000" stroke-width="7"/><text x="984.0" y="1462.5" font-family="Liberation Sans" font-size="51" font-weight="bold" text-anchor="middle" fill="#000" >8</text><line x1="1173.5" y1="1409" x2="1173.5" y2="1395" stroke="#000" stroke-width="7"/><text x="1172.0" y="1462.5" font-family="Liberation Sans" font-size="51" font-weight="bold" text-anchor="middle" fill="#000" textLength="59.5" lengthAdjust="spacingAndGlyphs" >10</text><text x="1360.0" y="1462.5" font-family="Liberation Sans" font-size="51" font-weight="bold" text-anchor="middle" fill="#000" textLength="59.5" lengthAdjust="spacingAndGlyphs" >12</text><line x1="327.5" y1="1409" x2="327.5" y2="1401" stroke="#000" stroke-width="6"/><line x1="515.5" y1="1409" x2="515.5" y2="1401" stroke="#000" stroke-width="6"/><line x1="703.5" y1="1409" x2="703.5" y2="1401" stroke="#000" stroke-width="6"/><line x1="891.5" y1="1409" x2="891.5" y2="1401" stroke="#000" stroke-width="6"/><line x1="1079.5" y1="1409" x2="1079.5" y2="1401" stroke="#000" stroke-width="6"/><line x1="1267.5" y1="1409" x2="1267.5" y2="1401" stroke="#000" stroke-width="6"/><text transform="translate(695.5,1517.3) scale(0.96,1)" x="0" y="0" font-family="Liberation Sans" font-size="49.5" font-weight="bold" fill="#000" textLength="209.4" lengthAdjust="spacing" >Time (h)</text><text transform="translate(111.0,1225.5) rotate(-90)" x="0" y="0" font-family="Liberation Sans" font-size="49.5" font-weight="bold" fill="#000" textLength="449.0" lengthAdjust="spacingAndGlyphs">Current density (mA/cm</text><text transform="translate(90.5,774.0) rotate(-90)" x="0" y="0" font-family="Liberation Sans" font-size="34" font-weight="normal" fill="#000" textLength="16.0" lengthAdjust="spacingAndGlyphs">2</text><text transform="translate(111.0,752.0) rotate(-90)" x="0" y="0" font-family="Liberation Sans" font-size="49.5" font-weight="bold" fill="#000" textLength="11.0" lengthAdjust="spacingAndGlyphs">)</text><line x1="969.5" y1="1228.6" x2="1064.7" y2="1228.6" stroke="#000" stroke-width="8" stroke-linecap="round"/><text x="1076.5" y="1241.2" font-family="Liberation Sans" font-size="37.5" font-weight="bold" text-anchor="start" fill="#000" textLength="216.0" lengthAdjust="spacingAndGlyphs" >Pt/C II RuO</text><text x="1297.0" y="1252.8" font-family="Liberation Sans" font-size="25.5" font-weight="normal" text-anchor="start" fill="#000" textLength="13.5" lengthAdjust="spacingAndGlyphs" >2</text><line x1="774.5" y1="1325.6" x2="871" y2="1325.6" stroke="#ff0000" stroke-width="9.5" stroke-linecap="round"/><text transform="translate(883.5,1338.2) scale(0.95,1)" x="0" y="0" font-family="Liberation Sans" font-size="38.5" font-weight="bold" fill="#000" textLength="447.4" lengthAdjust="spacing" >FeNiO-NF II FeNiP-NF</text><rect x="0" y="0" width="0" height="0" fill="none"/><path d="M333.0,1062.5 L335.0,1062.5 L337.0,1062.5 L339.0,1062.5 L341.0,1062.5 L343.0,1062.5 L345.0,1062.5 L347.0,1062.5 L349.0,1062.5 L351.0,1062.5 L353.0,1062.5 L355.0,1062.5 L357.0,1062.5 L359.0,1062.5 L361.0,1062.5 L363.0,1062.5 L365.0,1062.5 L367.0,1062.5 L369.0,1062.5 L371.0,1062.5 L373.0,1062.5 L375.0,1062.5 L377.0,1062.5 L379.0,1062.5 L381.0,1062.5 L383.0,1062.5 L385.0,1062.5 L387.0,1062.5 L389.0,1062.5 L391.0,1062.5 L393.0,1062.5 L395.0,1062.5 L397.0,1062.5 L399.0,1062.5 L401.0,1062.5 L403.0,1062.5 L405.0,1062.5 L407.0,1062.5 L409.0,1062.5 L411.0,1062.5 L413.0,1062.5 L415.0,1062.5 L417.0,1062.5 L419.0,1062.5 L421.0,1062.5 L423.0,1062.5 L425.0,1062.5 L427.0,1062.5 L429.0,1062.5 L431.0,1062.5 L433.0,1062.5 L435.0,1062.5 L437.0,1062.5 L439.0,1062.5 L441.0,1062.5 L443.0,1062.4 L444.9,1062.1 L446.7,1061.7 L448.6,1061.4 L450.6,1061.3 L452.6,1061.3 L454.6,1061.3 L456.6,1061.3 L458.6,1061.3 L460.6,1061.3 L462.6,1061.3 L464.6,1061.3 L466.6,1061.3 L468.6,1061.3 L470.6,1061.4 L472.6,1061.4 L474.6,1061.4 L476.6,1061.4 L478.6,1061.4 L480.6,1061.4 L482.6,1061.4 L484.6,1061.4 L486.6,1061.4 L488.6,1061.4 L490.6,1061.4 L492.6,1061.4 L494.6,1061.4 L496.6,1061.4 L498.6,1061.4 L500.6,1061.4 L502.6,1061.4 L504.6,1061.4 L506.6,1061.4 L508.6,1061.4 L510.6,1061.4 L512.6,1061.4 L514.6,1061.4 L516.6,1061.4 L518.6,1061.5 L520.6,1061.5 L522.6,1061.5 L524.6,1061.5 L526.6,1061.5 L528.6,1061.5 L530.6,1061.5 L532.6,1061.5 L534.6,1061.5 L536.6,1061.5 L538.6,1061.4 L540.6,1061.3 L542.6,1061.2 L544.6,1061.0 L546.6,1060.7 L548.5,1060.5 L550.5,1060.3 L552.5,1060.1 L554.5,1059.9 L556.5,1059.7 L558.5,1059.4 L560.5,1059.2 L562.5,1059.0 L564.4,1058.7 L566.4,1058.2 L568.3,1057.7 L570.2,1057.1 L572.1,1056.5 L574.0,1056.0 L576.0,1055.4 L577.9,1054.8 L579.8,1054.3 L581.7,1053.7 L583.6,1053.1 L585.6,1052.6 L587.5,1052.0 L589.3,1051.3 L591.2,1050.6 L592.9,1049.6 L594.7,1048.6 L596.4,1047.6 L598.1,1046.6 L599.8,1045.6 L601.5,1044.5 L603.3,1043.5 L605.0,1042.5 L606.7,1041.5 L608.4,1040.5 L610.1,1039.4 L611.9,1038.4 L613.6,1037.4 L615.2,1036.3 L616.7,1035.0 L618.1,1033.6 L619.4,1032.1 L620.7,1030.6 L622.0,1029.0 L623.3,1027.5 L624.6,1026.0 L625.9,1024.5 L627.2,1023.0 L628.5,1021.5 L629.8,1019.9 L631.0,1018.3 L632.1,1016.7 L633.1,1014.9 L634.1,1013.2 L635.0,1011.4 L636.0,1009.7 L637.0,1008.0 L638.0,1006.2 L639.0,1004.5 L639.9,1002.7 L640.9,1001.0 L641.9,999.2 L642.9,997.5 L643.8,995.7 L644.7,993.9 L645.5,992.1 L646.3,990.3 L647.2,988.5 L648.0,986.6 L648.8,984.8 L649.6,983.0 L650.5,981.2 L651.3,979.4 L652.1,977.5 L653.0,975.7 L653.8,973.9 L654.6,972.1 L655.4,970.2 L656.1,968.4 L656.8,966.5 L657.4,964.6 L658.1,962.7 L658.8,960.8 L659.4,958.9 L660.1,957.1 L660.8,955.2 L661.4,953.3 L662.1,951.4 L662.8,949.5 L663.4,947.6 L664.1,945.7 L664.6,943.8 L665.2,941.9 L665.7,939.9 L666.1,938.0 L666.6,936.1 L667.1,934.1 L667.6,932.2 L668.1,930.2 L668.6,928.3 L669.1,926.4 L669.6,924.4 L670.1,922.5 L670.5,920.6 L671.0,918.6 L671.4,916.7 L671.8,914.7 L672.3,912.7 L672.7,910.8 L673.1,908.8 L673.5,906.9 L673.9,904.9 L674.4,903.0 L674.8,901.0 L675.2,899.1 L675.6,897.1 L676.0,895.1 L676.5,893.2 L676.9,891.2 L677.3,889.3 L677.7,887.3 L678.1,885.4 L678.5,883.4 L679.0,881.4 L679.4,879.5 L679.8,877.5 L680.2,875.6 L680.6,873.6 L681.0,871.7 L681.4,869.7 L681.8,867.7 L682.2,865.8 L682.6,863.8 L683.0,861.9 L683.4,859.9 L683.8,857.9 L684.2,856.0 L684.6,854.0 L684.8,852.0 L685.0,850.1 L685.2,848.1 L685.3,846.1 L685.4,844.1 L685.6,842.1 L685.7,840.1 L685.8,838.1 L686.0,836.1 L686.2,834.1 L686.6,832.2 L687.0,830.2 L687.6,828.3 L688.2,826.4 L688.8,824.5 L689.4,822.6 L690.0,820.7 L690.6,818.8 L691.2,816.9 L691.8,815.0 L692.4,813.0 L693.0,811.1 L693.6,809.2 L694.2,807.3 L694.8,805.4 L695.3,803.5 L695.8,801.5 L696.3,799.6 L696.8,797.7 L697.3,795.7 L697.7,793.8 L698.2,791.8 L698.7,789.9 L699.2,788.0 L699.7,786.0 L700.2,784.1 L700.6,782.1 L701.1,780.2 L701.6,778.3 L702.1,776.3 L702.5,774.4 L703.0,772.4 L703.3,770.4 L703.7,768.5 L704.1,766.5 L704.5,764.6 L704.9,762.6 L705.3,760.6 L705.6,758.7 L706.0,756.7 L706.4,754.7 L706.8,752.8 L707.2,750.8 L707.6,748.9 L707.9,746.9 L708.3,744.9 L708.7,743.0 L709.0,741.0 L709.3,739.0 L709.5,737.0 L709.7,735.0 L709.8,733.0 L710.0,731.0 L710.2,729.1 L710.4,727.1 L710.6,725.1 L710.8,723.1 L711.0,721.1 L711.2,719.1 L711.4,717.1 L711.6,715.1 L711.8,713.1 L712.0,711.1 L712.2,709.1 L712.3,707.2 L712.5,705.2 L712.7,703.2 L712.9,701.4 L712.9,701.4" stroke="#ff1010" stroke-width="5.5" fill="none" stroke-linejoin="round"/><path d="M333.0,1061.5 L335.0,1061.5 L337.0,1061.5 L339.0,1061.5 L341.0,1061.5 L343.0,1061.5 L345.0,1061.5 L347.0,1061.5 L349.0,1061.5 L351.0,1061.5 L353.0,1061.5 L355.0,1061.5 L357.0,1061.5 L359.0,1061.5 L361.0,1061.5 L363.0,1061.5 L365.0,1061.5 L367.0,1061.5 L369.0,1061.5 L371.0,1061.6 L373.0,1061.6 L375.0,1061.6 L377.0,1061.6 L379.0,1061.6 L381.0,1061.6 L383.0,1061.6 L385.0,1061.6 L387.0,1061.6 L389.0,1061.6 L391.0,1061.6 L393.0,1061.6 L395.0,1061.6 L397.0,1061.6 L399.0,1061.6 L401.0,1061.6 L403.0,1061.6 L405.0,1061.6 L407.0,1061.6 L409.0,1061.6 L411.0,1061.6 L413.0,1061.6 L415.0,1061.6 L417.0,1061.6 L419.0,1061.6 L421.0,1061.7 L423.0,1061.7 L425.0,1061.7 L427.0,1061.7 L429.0,1061.7 L431.0,1061.7 L433.0,1061.7 L435.0,1061.7 L437.0,1061.7 L439.0,1061.7 L441.0,1061.7 L443.0,1061.7 L445.0,1061.7 L447.0,1061.7 L449.0,1061.7 L451.0,1061.7 L453.0,1061.7 L455.0,1061.7 L457.0,1061.7 L459.0,1061.7 L461.0,1061.7 L463.0,1061.7 L465.0,1061.7 L467.0,1061.7 L469.0,1061.7 L471.0,1061.7 L473.0,1061.7 L475.0,1061.7 L477.0,1061.7 L479.0,1061.7 L481.0,1061.7 L483.0,1061.7 L485.0,1061.7 L487.0,1061.6 L489.0,1061.6 L491.0,1061.6 L493.0,1061.6 L495.0,1061.6 L497.0,1061.6 L499.0,1061.6 L501.0,1061.6 L503.0,1061.6 L505.0,1061.6 L507.0,1061.6 L509.0,1061.6 L511.0,1061.5 L513.0,1061.5 L515.0,1061.5 L517.0,1061.5 L519.0,1061.5 L521.0,1061.5 L523.0,1061.5 L525.0,1061.4 L527.0,1061.4 L529.0,1061.4 L531.0,1061.4 L533.0,1061.3 L535.0,1061.3 L537.0,1061.3 L539.0,1061.2 L541.0,1061.2 L543.0,1061.1 L545.0,1061.1 L547.0,1061.0 L549.0,1060.9 L551.0,1060.8 L553.0,1060.7 L555.0,1060.6 L557.0,1060.5 L559.0,1060.2 L560.6,1059.7 L562.1,1059.0 L563.5,1058.2 L565.0,1057.3 L566.4,1056.3 L567.9,1055.5 L569.8,1054.8 L571.7,1054.3 L573.6,1053.7 L575.5,1053.0 L577.4,1052.4 L579.3,1051.8 L581.2,1051.1 L583.1,1050.4 L584.9,1049.7 L586.8,1048.9 L588.6,1048.1 L590.5,1047.4 L592.3,1046.5 L594.1,1045.7 L595.9,1044.8 L597.7,1044.0 L599.5,1043.1 L601.3,1042.2 L603.1,1041.2 L604.8,1040.3 L606.6,1039.3 L608.3,1038.3 L610.0,1037.3 L611.7,1036.3 L613.4,1035.2 L615.1,1034.1 L616.7,1032.9 L618.3,1031.7 L619.8,1030.5 L621.3,1029.1 L622.8,1027.8 L624.2,1026.4 L625.6,1024.9 L626.9,1023.5 L628.3,1021.9 L629.5,1020.4 L630.8,1018.8 L632.0,1017.3 L633.2,1015.7 L634.4,1014.1 L635.6,1012.5 L636.8,1010.8 L637.9,1009.2 L639.0,1007.5 L640.1,1005.9 L641.2,1004.2 L642.3,1002.5 L643.4,1000.8 L644.4,999.1 L645.4,997.4 L646.4,995.7 L647.4,993.9 L648.4,992.2 L649.4,990.4 L650.3,988.7 L651.2,986.9 L652.2,985.1 L653.1,983.3 L653.9,981.5 L654.8,979.7 L655.7,977.9 L656.5,976.1 L657.4,974.3 L658.2,972.5 L659.0,970.7 L659.9,968.9 L660.7,967.0 L661.5,965.2 L662.3,963.4 L663.0,961.5 L663.8,959.7 L664.6,957.8 L665.3,956.0 L666.0,954.1 L666.8,952.2 L667.5,950.4 L668.2,948.5 L668.9,946.6 L669.5,944.7 L670.2,942.8 L670.8,940.9 L671.5,939.1 L672.1,937.1 L672.7,935.2 L673.3,933.3 L673.9,931.4 L674.4,929.5 L675.0,927.6 L675.5,925.6 L676.0,923.7 L676.5,921.8 L677.0,919.8 L677.5,917.9 L678.0,916.0 L678.4,914.0 L678.8,912.1 L679.3,910.1 L679.7,908.1 L680.1,906.2 L680.5,904.2 L680.9,902.3 L681.3,900.3 L681.7,898.4 L682.1,896.4 L682.5,894.4 L682.9,892.5 L683.3,890.5 L683.7,888.6 L684.2,886.6 L684.6,884.7 L685.0,882.7 L685.5,880.8 L686.0,878.8 L686.4,876.9 L686.9,874.9 L687.4,873.0 L687.9,871.1 L688.5,869.1 L689.0,867.2 L689.5,865.3 L690.0,863.3 L690.4,861.4 L690.9,859.4 L691.3,857.5 L691.8,855.5 L692.2,853.6 L692.6,851.6 L693.0,849.7 L693.4,847.7 L693.8,845.7 L694.1,843.8 L694.5,841.8 L694.9,839.8 L695.3,837.9 L695.7,835.9 L696.1,834.0 L696.5,832.0 L696.9,830.0 L697.4,828.1 L697.8,826.1 L698.2,824.2 L698.7,822.2 L699.1,820.3 L699.6,818.3 L700.0,816.4 L700.5,814.4 L700.9,812.5 L701.3,810.5 L701.8,808.6 L702.2,806.6 L702.6,804.7 L703.1,802.7 L703.5,800.8 L703.9,798.8 L704.3,796.9 L704.7,794.9 L705.1,792.9 L705.5,791.0 L705.9,789.0 L706.3,787.1 L706.7,785.1 L707.1,783.1 L707.5,781.2 L707.9,779.2 L708.3,777.3 L708.7,775.3 L709.1,773.3 L709.5,771.4 L709.9,769.4 L710.3,767.5 L710.8,765.5 L711.2,763.6 L711.6,761.6 L712.0,759.6 L712.4,757.7 L712.8,755.7 L713.2,753.8 L713.6,751.8 L713.9,749.8 L714.3,747.9 L714.6,745.9 L714.9,743.9 L715.2,741.9 L715.5,740.0 L715.8,738.0 L716.0,736.0 L716.2,734.0 L716.5,732.0 L716.7,730.0 L716.9,728.0 L717.1,726.0 L717.2,724.1 L717.4,722.1 L717.6,720.1 L717.8,718.1 L718.0,716.1 L718.1,714.1 L718.3,712.1 L718.5,710.1 L718.6,708.1 L718.8,706.1 L719.0,704.2 L719.1,702.2 L719.2,701.4" stroke="#3ba77f" stroke-width="5" fill="none" stroke-dasharray="4.5 4.5"/><rect x="330.7" y="701" width="444" height="368.8" fill="none" stroke="#000" stroke-width="5.5"/><line x1="330.7" y1="698" x2="330.7" y2="1073.5" stroke="#000" stroke-width="7"/><line x1="322.5" y1="1064.0" x2="331" y2="1064.0" stroke="#000" stroke-width="5"/><text x="316.8" y="1070.5" font-family="Liberation Sans" font-size="24" font-weight="bold" text-anchor="end" fill="#262626" >0</text><line x1="322.5" y1="1003.4" x2="331" y2="1003.4" stroke="#000" stroke-width="5"/><text x="316.8" y="1009.9" font-family="Liberation Sans" font-size="24" font-weight="bold" text-anchor="end" fill="#262626" >50</text><line x1="322.5" y1="942.7" x2="331" y2="942.7" stroke="#000" stroke-width="5"/><text x="316.8" y="949.2" font-family="Liberation Sans" font-size="24" font-weight="bold" text-anchor="end" fill="#262626" >100</text><line x1="322.5" y1="882.0" x2="331" y2="882.0" stroke="#000" stroke-width="5"/><text x="316.8" y="888.5" font-family="Liberation Sans" font-size="24" font-weight="bold" text-anchor="end" fill="#262626" >150</text><line x1="322.5" y1="821.4" x2="331" y2="821.4" stroke="#000" stroke-width="5"/><text x="316.8" y="827.9" font-family="Liberation Sans" font-size="24" font-weight="bold" text-anchor="end" fill="#262626" >200</text><line x1="322.5" y1="760.8" x2="331" y2="760.8" stroke="#000" stroke-width="5"/><text x="316.8" y="767.2" font-family="Liberation Sans" font-size="24" font-weight="bold" text-anchor="end" fill="#262626" >250</text><line x1="322.5" y1="700.1" x2="331" y2="700.1" stroke="#000" stroke-width="5"/><text x="316.8" y="706.6" font-family="Liberation Sans" font-size="24" font-weight="bold" text-anchor="end" fill="#262626" >300</text><line x1="330.7" y1="1069" x2="330.7" y2="1077.5" stroke="#000" stroke-width="5"/><text x="330.7" y="1099.4" font-family="Liberation Sans" font-size="25" font-weight="bold" text-anchor="middle" fill="#262626" textLength="29.5" lengthAdjust="spacingAndGlyphs" >1.0</text><line x1="419.6" y1="1069" x2="419.6" y2="1077.5" stroke="#000" stroke-width="5"/><text x="419.6" y="1099.4" font-family="Liberation Sans" font-size="25" font-weight="bold" text-anchor="middle" fill="#262626" textLength="29.5" lengthAdjust="spacingAndGlyphs" >1.2</text><line x1="508.4" y1="1069" x2="508.4" y2="1077.5" stroke="#000" stroke-width="5"/><text x="508.4" y="1099.4" font-family="Liberation Sans" font-size="25" font-weight="bold" text-anchor="middle" fill="#262626" textLength="29.5" lengthAdjust="spacingAndGlyphs" >1.4</text><line x1="597.3" y1="1069" x2="597.3" y2="1077.5" stroke="#000" stroke-width="5"/><text x="597.3" y="1099.4" font-family="Liberation Sans" font-size="25" font-weight="bold" text-anchor="middle" fill="#262626" textLength="29.5" lengthAdjust="spacingAndGlyphs" >1.6</text><line x1="686.1" y1="1069" x2="686.1" y2="1077.5" stroke="#000" stroke-width="5"/><text x="686.1" y="1099.4" font-family="Liberation Sans" font-size="25" font-weight="bold" text-anchor="middle" fill="#262626" textLength="29.5" lengthAdjust="spacingAndGlyphs" >1.8</text><line x1="775.0" y1="1069" x2="775.0" y2="1077.5" stroke="#000" stroke-width="5"/><text x="775.0" y="1099.4" font-family="Liberation Sans" font-size="25" font-weight="bold" text-anchor="middle" fill="#262626" textLength="29.5" lengthAdjust="spacingAndGlyphs" >2.0</text><text x="436.6" y="1128.7" font-family="Liberation Sans" font-size="21.5" font-weight="normal" text-anchor="start" fill="#2a2a2a" textLength="229.5" lengthAdjust="spacingAndGlyphs" >Potential (V) vs. RHE</text><text transform="translate(268.5,986.5) rotate(-90)" x="0" y="0" font-family="Liberation Sans" font-size="25" font-weight="normal" fill="#2a2a2a" textLength="240.5" lengthAdjust="spacingAndGlyphs">Current density (mA/cm</text><text transform="translate(261.0,742.0) rotate(-90)" x="0" y="0" font-family="Liberation Sans" font-size="17" font-weight="normal" fill="#2a2a2a" textLength="7.5" lengthAdjust="spacingAndGlyphs">2</text><text transform="translate(268.5,731.5) rotate(-90)" x="0" y="0" font-family="Liberation Sans" font-size="25" font-weight="normal" fill="#2a2a2a" textLength="6.5" lengthAdjust="spacingAndGlyphs">)</text><line x1="341.5" y1="723.1" x2="385.9" y2="723.1" stroke="#ff1010" stroke-width="5.7"/><line x1="341.5" y1="752" x2="380" y2="752" stroke="#3ba77f" stroke-width="5" stroke-dasharray="4.5 6.5"/><text x="390.6" y="728.4" font-family="Liberation Sans" font-size="21" font-weight="normal" text-anchor="start" fill="#2a2a2a" textLength="194.2" lengthAdjust="spacingAndGlyphs" stroke="#2a2a2a" stroke-width="0.4">Before electrolysis</text><text x="390.0" y="757.8" font-family="Liberation Sans" font-size="21" font-weight="normal" text-anchor="start" fill="#2a2a2a" textLength="176.8" lengthAdjust="spacingAndGlyphs" stroke="#2a2a2a" stroke-width="0.4">After electrolysis</text><text transform="translate(338.5,820.5) scale(0.93,1)" x="0" y="0" font-family="Liberation Sans" font-size="31" font-weight="bold" fill="#111" textLength="372.0" lengthAdjust="spacing" >FeNiO-NF II FeNiP-NF</text><path d="M866.0,1059.5 L868.0,1059.5 L870.0,1059.5 L872.0,1059.5 L874.0,1059.5 L876.0,1059.5 L878.0,1059.5 L880.0,1059.5 L882.0,1059.5 L884.0,1059.5 L886.0,1059.5 L888.0,1059.5 L890.0,1059.4 L892.0,1059.4 L894.0,1059.4 L896.0,1059.4 L898.0,1059.4 L900.0,1059.4 L902.0,1059.4 L904.0,1059.4 L906.0,1059.4 L908.0,1059.4 L910.0,1059.4 L912.0,1059.4 L914.0,1059.4 L916.0,1059.4 L918.0,1059.4 L920.0,1059.4 L922.0,1059.4 L924.0,1059.4 L926.0,1059.4 L928.0,1059.4 L930.0,1059.4 L932.0,1059.4 L934.0,1059.4 L936.0,1059.4 L938.0,1059.4 L940.0,1059.4 L942.0,1059.4 L944.0,1059.4 L946.0,1059.3 L948.0,1059.3 L950.0,1059.3 L952.0,1059.3 L954.0,1059.3 L956.0,1059.3 L958.0,1059.3 L960.0,1059.3 L962.0,1059.3 L964.0,1059.3 L966.0,1059.3 L968.0,1059.3 L970.0,1059.3 L972.0,1059.3 L974.0,1059.3 L976.0,1059.3 L978.0,1059.3 L980.0,1059.3 L982.0,1059.3 L984.0,1059.3 L986.0,1059.3 L988.0,1059.3 L990.0,1059.2 L992.0,1059.2 L994.0,1059.2 L996.0,1059.2 L998.0,1059.2 L1000.0,1059.2 L1002.0,1059.2 L1004.0,1059.2 L1006.0,1059.2 L1008.0,1059.2 L1010.0,1059.2 L1012.0,1059.2 L1014.0,1059.2 L1016.0,1059.2 L1018.0,1059.2 L1020.0,1059.2 L1022.0,1059.1 L1024.0,1059.1 L1026.0,1059.1 L1028.0,1059.1 L1030.0,1059.1 L1032.0,1059.1 L1034.0,1059.1 L1036.0,1059.1 L1038.0,1059.1 L1040.0,1059.1 L1042.0,1059.1 L1044.0,1059.0 L1046.0,1059.0 L1048.0,1059.0 L1050.0,1059.0 L1052.0,1059.0 L1054.0,1059.0 L1056.0,1059.0 L1058.0,1058.9 L1060.0,1058.9 L1062.0,1058.9 L1064.0,1058.9 L1066.0,1058.8 L1068.0,1058.7 L1069.9,1058.5 L1071.9,1058.3 L1073.9,1058.0 L1075.9,1057.7 L1077.8,1057.4 L1079.8,1057.0 L1081.7,1056.6 L1083.7,1056.2 L1085.6,1055.8 L1087.6,1055.3 L1089.5,1054.8 L1091.4,1054.3 L1093.4,1053.7 L1095.3,1053.1 L1097.2,1052.5 L1099.0,1051.8 L1100.9,1051.0 L1102.7,1050.3 L1104.5,1049.4 L1106.3,1048.6 L1108.1,1047.7 L1109.9,1046.7 L1111.6,1045.8 L1113.4,1044.8 L1115.1,1043.8 L1116.8,1042.8 L1118.6,1041.8 L1120.3,1040.8 L1122.0,1039.7 L1123.7,1038.7 L1125.4,1037.6 L1127.1,1036.6 L1128.8,1035.5 L1130.5,1034.4 L1132.2,1033.3 L1133.8,1032.2 L1135.5,1031.1 L1137.1,1030.0 L1138.8,1028.8 L1140.4,1027.7 L1142.0,1026.5 L1143.6,1025.2 L1145.1,1024.0 L1146.6,1022.7 L1148.2,1021.4 L1149.7,1020.1 L1151.1,1018.7 L1152.6,1017.3 L1154.0,1015.9 L1155.4,1014.5 L1156.7,1013.0 L1158.1,1011.6 L1159.4,1010.1 L1160.7,1008.6 L1162.0,1007.0 L1163.3,1005.5 L1164.6,1004.0 L1165.9,1002.4 L1167.1,1000.9 L1168.3,999.3 L1169.6,997.7 L1170.8,996.1 L1172.0,994.5 L1173.2,992.9 L1174.4,991.3 L1175.5,989.7 L1176.7,988.1 L1177.8,986.4 L1179.0,984.8 L1180.1,983.1 L1181.2,981.4 L1182.3,979.8 L1183.4,978.1 L1184.4,976.4 L1185.5,974.7 L1186.5,973.0 L1187.6,971.3 L1188.7,969.6 L1189.7,967.9 L1190.8,966.2 L1191.8,964.5 L1192.9,962.8 L1194.0,961.1 L1195.1,959.5 L1196.2,957.8 L1197.3,956.1 L1198.4,954.5 L1199.6,952.8 L1200.7,951.2 L1201.8,949.5 L1203.0,947.9 L1204.1,946.3 L1205.3,944.6 L1206.4,943.0 L1207.6,941.4 L1208.8,939.8 L1209.9,938.1 L1211.1,936.5 L1212.2,934.9 L1213.4,933.2 L1214.5,931.6 L1215.7,930.0 L1216.9,928.3 L1218.0,926.7 L1219.2,925.1 L1220.3,923.4 L1221.5,921.8 L1222.6,920.2 L1223.8,918.5 L1224.9,916.9 L1226.1,915.3 L1227.2,913.6 L1228.4,912.0 L1229.5,910.3 L1230.6,908.7 L1231.7,907.0 L1232.8,905.3 L1233.9,903.6 L1235.0,902.0 L1236.1,900.3 L1237.1,898.6 L1238.2,896.9 L1239.3,895.2 L1240.3,893.5 L1241.4,891.8 L1242.4,890.1 L1243.5,888.4 L1244.6,886.7 L1245.6,885.0 L1246.7,883.3 L1247.8,881.7 L1248.9,880.0 L1249.9,878.3 L1251.0,876.6 L1252.1,874.9 L1253.2,873.3 L1254.3,871.6 L1255.4,869.9 L1256.5,868.2 L1257.6,866.6 L1258.7,864.9 L1259.7,863.2 L1260.8,861.5 L1261.9,859.8 L1262.9,858.1 L1263.9,856.4 L1265.0,854.7 L1266.0,853.0 L1267.0,851.2 L1268.0,849.5 L1269.0,847.8 L1270.0,846.0 L1270.9,844.3 L1271.9,842.5 L1272.8,840.8 L1273.8,839.0 L1274.7,837.2 L1275.7,835.5 L1276.6,833.7 L1277.6,831.9 L1278.5,830.2 L1279.4,828.4 L1280.4,826.6 L1281.3,824.8 L1282.2,823.1 L1283.1,821.3 L1284.0,819.5 L1285.0,817.7 L1285.9,816.0 L1286.8,814.2 L1287.7,812.4 L1288.6,810.6 L1289.5,808.8 L1290.4,807.1 L1291.3,805.3 L1292.2,803.5 L1293.1,801.7 L1294.0,799.9 L1294.9,798.1 L1295.7,796.3 L1296.6,794.5 L1297.5,792.7 L1298.3,790.9 L1299.2,789.1 L1300.1,787.3 L1300.9,785.5 L1301.8,783.7 L1302.6,781.9 L1303.5,780.0 L1304.3,778.2 L1305.1,776.4 L1306.0,774.6 L1306.8,772.8 L1307.6,770.9 L1308.4,769.1 L1309.2,767.3 L1310.0,765.4 L1310.8,763.6 L1311.5,761.8 L1312.3,759.9 L1313.1,758.1 L1313.9,756.2 L1314.7,754.4 L1315.4,752.5 L1316.2,750.7 L1317.0,748.8 L1317.7,747.0 L1318.5,745.1 L1319.2,743.3 L1319.9,741.4 L1320.6,739.5 L1321.3,737.6 L1321.9,735.8 L1322.5,733.8 L1323.0,731.9 L1323.5,730.0 L1324.0,728.1 L1324.4,726.1 L1324.7,724.1 L1325.0,722.2 L1325.2,720.2 L1325.4,718.2 L1325.6,716.2 L1325.7,714.2 L1325.8,712.2 L1326.0,710.3 L1326.0,708.3 L1326.1,706.4 L1326.2,705.0 L1326.2,705.0" stroke="#555555" stroke-width="5.5" fill="none" stroke-linejoin="round"/><path d="M866.0,1060.0 L868.0,1060.0 L870.0,1060.0 L872.0,1060.0 L874.0,1060.0 L876.0,1060.0 L878.0,1060.0 L880.0,1060.0 L882.0,1060.1 L884.0,1060.1 L886.0,1060.1 L888.0,1060.1 L890.0,1060.1 L892.0,1060.1 L894.0,1060.1 L896.0,1060.1 L898.0,1060.1 L900.0,1060.1 L902.0,1060.1 L904.0,1060.2 L906.0,1060.2 L908.0,1060.2 L910.0,1060.2 L912.0,1060.2 L914.0,1060.2 L916.0,1060.2 L918.0,1060.2 L920.0,1060.2 L922.0,1060.2 L924.0,1060.2 L926.0,1060.3 L928.0,1060.3 L930.0,1060.3 L932.0,1060.3 L934.0,1060.3 L936.0,1060.3 L938.0,1060.3 L940.0,1060.3 L942.0,1060.3 L944.0,1060.3 L946.0,1060.3 L948.0,1060.4 L950.0,1060.4 L952.0,1060.4 L954.0,1060.4 L956.0,1060.4 L958.0,1060.4 L960.0,1060.4 L962.0,1060.4 L964.0,1060.4 L966.0,1060.4 L968.0,1060.4 L970.0,1060.4 L972.0,1060.4 L974.0,1060.4 L976.0,1060.4 L978.0,1060.5 L980.0,1060.5 L982.0,1060.5 L984.0,1060.5 L986.0,1060.5 L988.0,1060.5 L990.0,1060.5 L992.0,1060.5 L994.0,1060.5 L996.0,1060.5 L998.0,1060.5 L1000.0,1060.5 L1002.0,1060.5 L1004.0,1060.5 L1006.0,1060.5 L1008.0,1060.5 L1010.0,1060.5 L1012.0,1060.5 L1014.0,1060.5 L1016.0,1060.5 L1018.0,1060.5 L1020.0,1060.5 L1022.0,1060.5 L1024.0,1060.5 L1026.0,1060.5 L1028.0,1060.5 L1030.0,1060.5 L1032.0,1060.5 L1034.0,1060.4 L1036.0,1060.4 L1038.0,1060.4 L1040.0,1060.4 L1042.0,1060.4 L1044.0,1060.4 L1046.0,1060.3 L1048.0,1060.3 L1050.0,1060.3 L1052.0,1060.3 L1054.0,1060.2 L1056.0,1060.2 L1058.0,1060.1 L1060.0,1060.1 L1062.0,1060.0 L1064.0,1060.0 L1066.0,1059.9 L1068.0,1059.8 L1070.0,1059.7 L1072.0,1059.6 L1074.0,1059.4 L1075.9,1059.1 L1077.9,1058.8 L1079.9,1058.5 L1081.8,1058.1 L1083.8,1057.6 L1085.7,1057.2 L1087.6,1056.7 L1089.6,1056.2 L1091.5,1055.7 L1093.4,1055.2 L1095.4,1054.6 L1097.3,1054.1 L1099.2,1053.5 L1101.1,1052.9 L1103.0,1052.3 L1104.9,1051.6 L1106.8,1050.9 L1108.6,1050.2 L1110.5,1049.5 L1112.4,1048.7 L1114.2,1048.0 L1116.1,1047.2 L1117.9,1046.5 L1119.7,1045.7 L1121.6,1044.9 L1123.4,1044.1 L1125.2,1043.3 L1127.1,1042.4 L1128.8,1041.6 L1130.6,1040.6 L1132.3,1039.6 L1134.0,1038.6 L1135.7,1037.5 L1137.3,1036.3 L1138.8,1035.0 L1140.3,1033.7 L1141.7,1032.3 L1143.1,1030.9 L1144.4,1029.4 L1145.7,1027.8 L1146.9,1026.3 L1148.1,1024.7 L1149.3,1023.0 L1150.4,1021.4 L1151.5,1019.8 L1152.7,1018.1 L1153.8,1016.4 L1154.9,1014.8 L1156.0,1013.1 L1157.1,1011.4 L1158.2,1009.8 L1159.3,1008.1 L1160.4,1006.5 L1161.6,1004.8 L1162.7,1003.2 L1163.8,1001.5 L1164.9,999.8 L1166.1,998.2 L1167.2,996.5 L1168.3,994.9 L1169.4,993.2 L1170.5,991.5 L1171.6,989.9 L1172.7,988.2 L1173.8,986.5 L1174.8,984.8 L1175.9,983.1 L1176.9,981.4 L1178.0,979.7 L1179.0,978.0 L1180.1,976.3 L1181.1,974.6 L1182.1,972.9 L1183.2,971.2 L1184.2,969.4 L1185.2,967.7 L1186.2,966.0 L1187.2,964.3 L1188.3,962.5 L1189.3,960.8 L1190.3,959.1 L1191.3,957.4 L1192.3,955.7 L1193.4,953.9 L1194.4,952.2 L1195.4,950.5 L1196.4,948.8 L1197.4,947.1 L1198.4,945.3 L1199.5,943.6 L1200.5,941.9 L1201.5,940.2 L1202.6,938.5 L1203.7,936.8 L1204.7,935.1 L1205.8,933.4 L1206.9,931.8 L1208.0,930.1 L1209.1,928.5 L1210.3,926.8 L1211.4,925.2 L1212.6,923.5 L1213.7,921.9 L1214.9,920.3 L1216.1,918.6 L1217.2,917.0 L1218.4,915.4 L1219.5,913.7 L1220.6,912.1 L1221.8,910.4 L1222.9,908.8 L1224.0,907.1 L1225.1,905.5 L1226.2,903.8 L1227.3,902.1 L1228.4,900.4 L1229.5,898.7 L1230.5,897.0 L1231.6,895.4 L1232.7,893.7 L1233.7,892.0 L1234.8,890.3 L1235.9,888.6 L1236.9,886.9 L1238.0,885.2 L1239.1,883.5 L1240.2,881.8 L1241.2,880.2 L1242.3,878.5 L1243.4,876.8 L1244.5,875.1 L1245.6,873.4 L1246.7,871.8 L1247.8,870.1 L1248.9,868.4 L1250.0,866.7 L1251.0,865.1 L1252.1,863.4 L1253.2,861.7 L1254.2,860.0 L1255.3,858.3 L1256.3,856.6 L1257.4,854.9 L1258.4,853.1 L1259.4,851.4 L1260.4,849.7 L1261.4,847.9 L1262.3,846.2 L1263.3,844.4 L1264.3,842.7 L1265.2,840.9 L1266.2,839.2 L1267.1,837.4 L1268.0,835.6 L1269.0,833.9 L1269.9,832.1 L1270.8,830.3 L1271.8,828.6 L1272.7,826.8 L1273.6,825.0 L1274.6,823.3 L1275.5,821.5 L1276.5,819.7 L1277.4,818.0 L1278.4,816.2 L1279.3,814.5 L1280.3,812.7 L1281.3,810.9 L1282.2,809.2 L1283.2,807.4 L1284.1,805.7 L1285.1,803.9 L1286.0,802.2 L1287.0,800.4 L1287.9,798.6 L1288.9,796.9 L1289.8,795.1 L1290.7,793.3 L1291.7,791.6 L1292.6,789.8 L1293.5,788.0 L1294.5,786.3 L1295.4,784.5 L1296.3,782.7 L1297.2,780.9 L1298.1,779.1 L1299.0,777.4 L1299.9,775.6 L1300.8,773.8 L1301.7,772.0 L1302.6,770.2 L1303.4,768.4 L1304.3,766.6 L1305.1,764.7 L1305.9,762.9 L1306.7,761.1 L1307.5,759.3 L1308.3,757.4 L1309.1,755.6 L1309.8,753.7 L1310.6,751.9 L1311.3,750.0 L1312.1,748.2 L1312.8,746.3 L1313.5,744.4 L1314.2,742.6 L1314.9,740.7 L1315.6,738.8 L1316.3,736.9 L1316.9,735.0 L1317.6,733.1 L1318.2,731.2 L1318.8,729.3 L1319.4,727.4 L1319.9,725.5 L1320.5,723.6 L1321.0,721.6 L1321.5,719.7 L1322.0,717.8 L1322.5,715.8 L1323.0,713.9 L1323.4,711.9 L1323.9,710.0 L1324.3,708.0 L1324.8,706.1 L1325.2,704.2 L1325.7,702.3 L1326.1,700.5 L1326.2,700.0" stroke="#3b6fd6" stroke-width="5" fill="none" stroke-dasharray="4.5 4.5"/><rect x="863.5" y="699.3" width="466" height="369.8" fill="none" stroke="#000" stroke-width="5.3"/><line x1="863.5" y1="696.5" x2="863.5" y2="1073" stroke="#000" stroke-width="6.5"/><line x1="856" y1="1060.6" x2="864" y2="1060.6" stroke="#000" stroke-width="5"/><text x="849.5" y="1066.1" font-family="Liberation Sans" font-size="24" font-weight="normal" text-anchor="end" fill="#1a1a1a" stroke="#1a1a1a" stroke-width="0.6">0</text><line x1="856" y1="960.2" x2="864" y2="960.2" stroke="#000" stroke-width="5"/><text x="849.5" y="965.7" font-family="Liberation Sans" font-size="24" font-weight="normal" text-anchor="end" fill="#1a1a1a" stroke="#1a1a1a" stroke-width="0.6">50</text><line x1="856" y1="859.8" x2="864" y2="859.8" stroke="#000" stroke-width="5"/><text x="849.5" y="865.3" font-family="Liberation Sans" font-size="24" font-weight="normal" text-anchor="end" fill="#1a1a1a" stroke="#1a1a1a" stroke-width="0.6">100</text><line x1="856" y1="759.4" x2="864" y2="759.4" stroke="#000" stroke-width="5"/><text x="849.5" y="764.9" font-family="Liberation Sans" font-size="24" font-weight="normal" text-anchor="end" fill="#1a1a1a" stroke="#1a1a1a" stroke-width="0.6">150</text><line x1="863.5" y1="1068" x2="863.5" y2="1077" stroke="#000" stroke-width="5"/><text x="863.5" y="1104.0" font-family="Liberation Sans" font-size="25" font-weight="bold" text-anchor="middle" fill="#1a1a1a" textLength="30.0" lengthAdjust="spacingAndGlyphs" >1.0</text><line x1="956.5" y1="1068" x2="956.5" y2="1077" stroke="#000" stroke-width="5"/><text x="956.5" y="1104.0" font-family="Liberation Sans" font-size="25" font-weight="bold" text-anchor="middle" fill="#1a1a1a" textLength="30.0" lengthAdjust="spacingAndGlyphs" >1.2</text><line x1="1049.5" y1="1068" x2="1049.5" y2="1077" stroke="#000" stroke-width="5"/><text x="1049.5" y="1104.0" font-family="Liberation Sans" font-size="25" font-weight="bold" text-anchor="middle" fill="#1a1a1a" textLength="30.0" lengthAdjust="spacingAndGlyphs" >1.4</text><line x1="1142.5" y1="1068" x2="1142.5" y2="1077" stroke="#000" stroke-width="5"/><text x="1142.5" y="1104.0" font-family="Liberation Sans" font-size="25" font-weight="bold" text-anchor="middle" fill="#1a1a1a" textLength="30.0" lengthAdjust="spacingAndGlyphs" >1.6</text><line x1="1235.5" y1="1068" x2="1235.5" y2="1077" stroke="#000" stroke-width="5"/><text x="1235.5" y="1104.0" font-family="Liberation Sans" font-size="25" font-weight="bold" text-anchor="middle" fill="#1a1a1a" textLength="30.0" lengthAdjust="spacingAndGlyphs" >1.8</text><line x1="1328.5" y1="1068" x2="1328.5" y2="1077" stroke="#000" stroke-width="5"/><text x="1328.5" y="1104.0" font-family="Liberation Sans" font-size="25" font-weight="bold" text-anchor="middle" fill="#1a1a1a" textLength="30.0" lengthAdjust="spacingAndGlyphs" >2.0</text><text x="973.0" y="1128.2" font-family="Liberation Sans" font-size="21.5" font-weight="normal" text-anchor="start" fill="#2a2a2a" textLength="236.0" lengthAdjust="spacingAndGlyphs" >Potential (V) vs. RHE</text><text transform="translate(808.0,1041.0) rotate(-90)" x="0" y="0" font-family="Liberation Sans" font-size="25.5" font-weight="bold" fill="#1a1a1a" textLength="272.0" lengthAdjust="spacingAndGlyphs">Current density (mA/cm</text><text transform="translate(799.0,768.5) rotate(-90)" x="0" y="0" font-family="Liberation Sans" font-size="17" font-weight="normal" fill="#1a1a1a" textLength="8.0" lengthAdjust="spacingAndGlyphs">2</text><text transform="translate(808.0,752.0) rotate(-90)" x="0" y="0" font-family="Liberation Sans" font-size="25.5" font-weight="bold" fill="#1a1a1a" textLength="7.0" lengthAdjust="spacingAndGlyphs">)</text><line x1="873.8" y1="723.5" x2="920.9" y2="723.5" stroke="#555" stroke-width="6"/><line x1="873" y1="752" x2="915" y2="752" stroke="#3b6fd6" stroke-width="5" stroke-dasharray="4.5 7.5"/><text x="924.8" y="727.4" font-family="Liberation Sans" font-size="21" font-weight="normal" text-anchor="start" fill="#2a2a2a" textLength="206.4" lengthAdjust="spacingAndGlyphs" stroke="#2a2a2a" stroke-width="0.4">Before electrolysis</text><text x="924.8" y="758.3" font-family="Liberation Sans" font-size="21" font-weight="normal" text-anchor="start" fill="#2a2a2a" textLength="185.7" lengthAdjust="spacingAndGlyphs" stroke="#2a2a2a" stroke-width="0.4">After electrolysis</text><text x="919.8" y="825.0" font-family="Liberation Sans" font-size="26.5" font-weight="bold" text-anchor="start" fill="#111" textLength="164.0" lengthAdjust="spacingAndGlyphs" >Pt/C II RuO</text><text x="1084.0" y="833.5" font-family="Liberation Sans" font-size="18" font-weight="normal" text-anchor="start" fill="#111" textLength="9.0" lengthAdjust="spacingAndGlyphs" >2</text></g>
</svg>
</body></html>
